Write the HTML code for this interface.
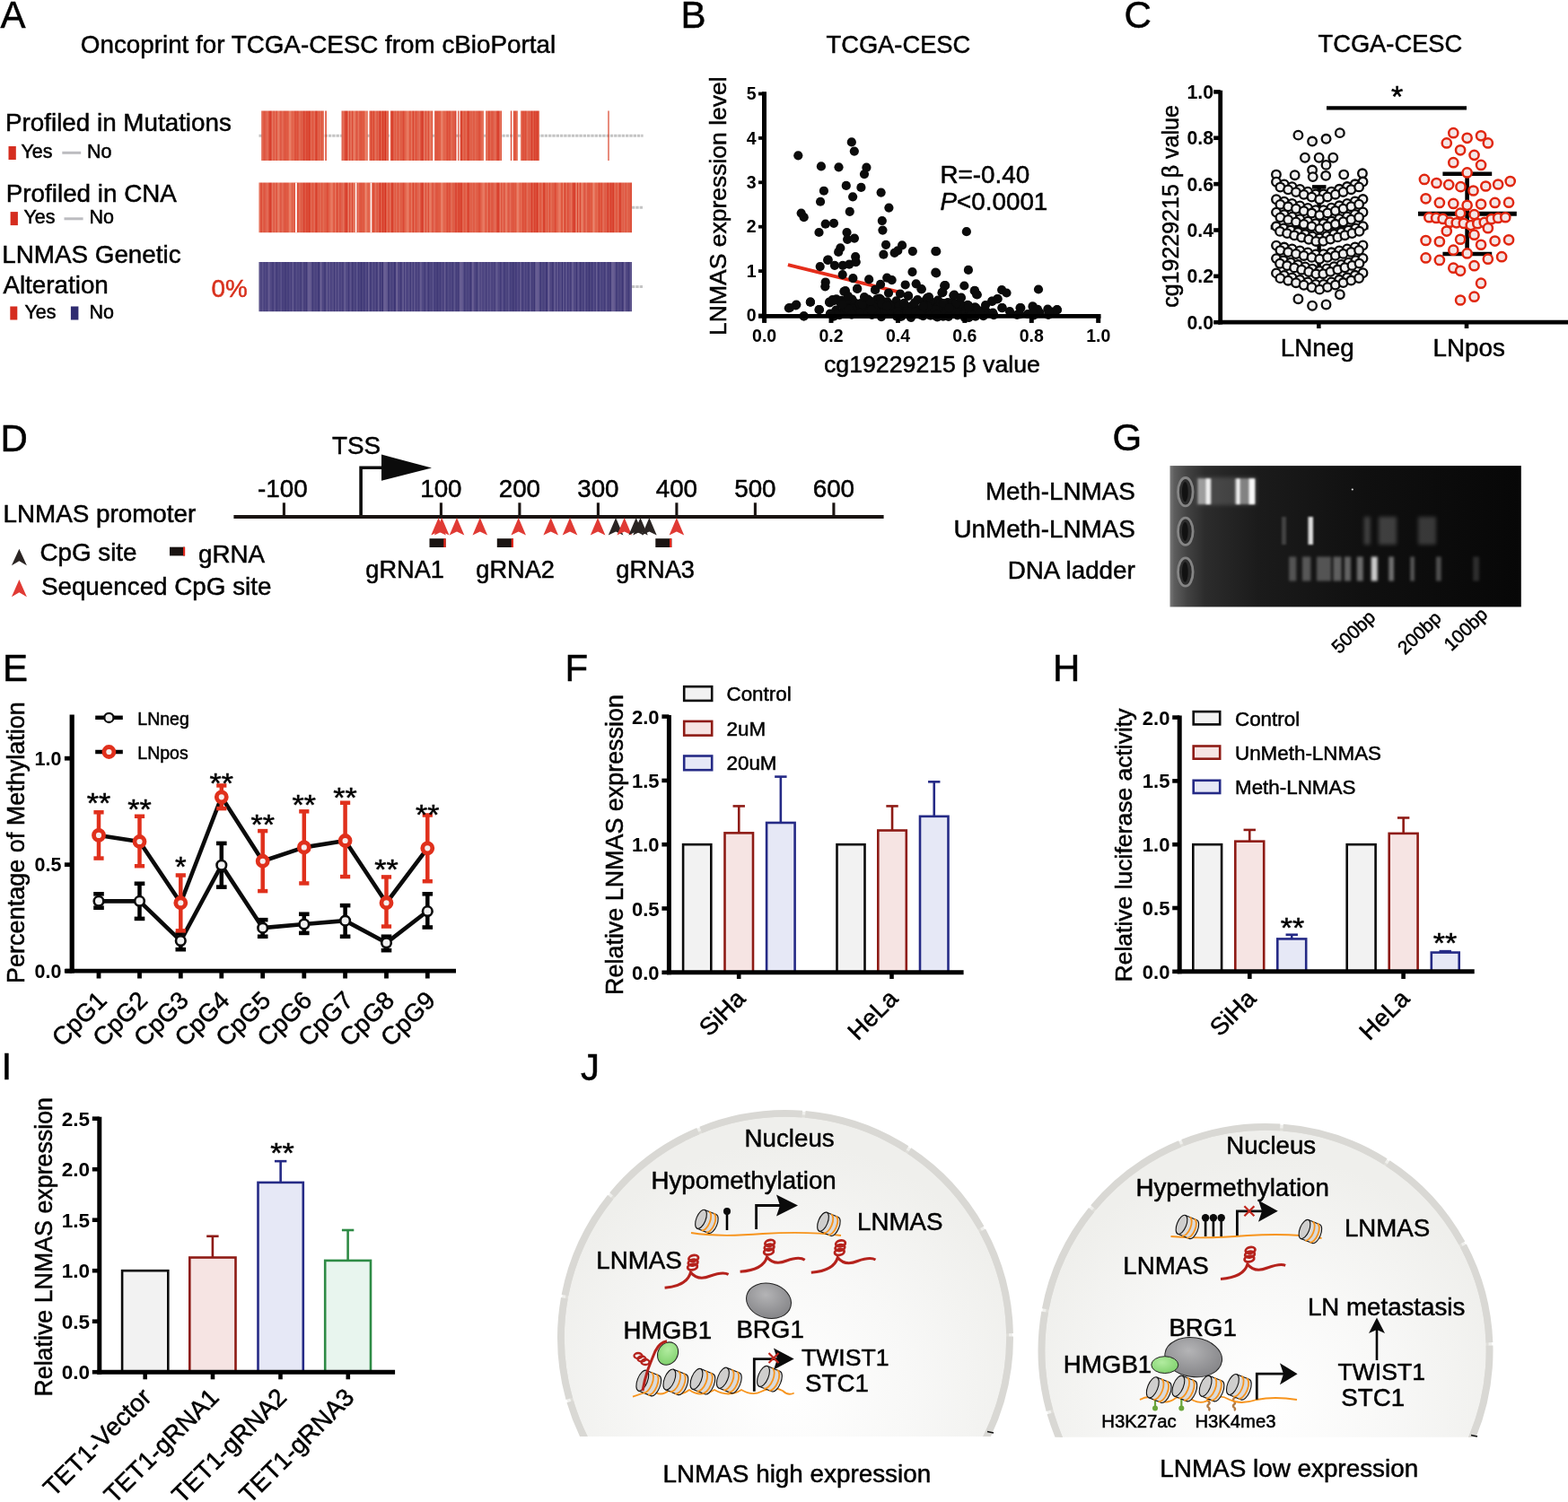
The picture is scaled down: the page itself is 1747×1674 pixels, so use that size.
<!DOCTYPE html>
<html><head><meta charset="utf-8"><title>Figure</title>
<style>html,body{margin:0;padding:0;background:#fff;width:1747px;height:1674px;overflow:hidden}svg{display:block}</style>
</head><body><svg width="1747" height="1674" viewBox="0 0 1747 1674" font-family='"Liberation Sans", Arial, Helvetica, sans-serif'><defs><pattern id="pr" patternUnits="userSpaceOnUse" x="0" y="0" width="84.6" height="10"><rect x="0" y="0" width="84.6" height="10" fill="#eba08c"/><rect x="0" y="0" width="1.41" height="10" fill="#d73826"/><rect x="1.41" y="0" width="1.41" height="10" fill="#df5139"/><rect x="2.82" y="0" width="1.41" height="10" fill="#d93c28"/><rect x="4.23" y="0" width="1.41" height="10" fill="#d93c28"/><rect x="5.64" y="0" width="1.41" height="10" fill="#d5321f"/><rect x="7.05" y="0" width="1.11" height="10" fill="#e0573f"/><rect x="8.46" y="0" width="1.41" height="10" fill="#df5139"/><rect x="9.87" y="0" width="1.11" height="10" fill="#e0573f"/><rect x="11.28" y="0" width="1.11" height="10" fill="#df5139"/><rect x="12.69" y="0" width="1.41" height="10" fill="#d93c28"/><rect x="14.1" y="0" width="1.41" height="10" fill="#d5321f"/><rect x="15.51" y="0" width="1.11" height="10" fill="#df5139"/><rect x="16.92" y="0" width="1.11" height="10" fill="#e0573f"/><rect x="18.33" y="0" width="1.11" height="10" fill="#dc4a33"/><rect x="19.74" y="0" width="1.41" height="10" fill="#dc4a33"/><rect x="21.15" y="0" width="1.41" height="10" fill="#e4664c"/><rect x="22.56" y="0" width="1.11" height="10" fill="#dc4a33"/><rect x="23.97" y="0" width="1.41" height="10" fill="#e0573f"/><rect x="25.38" y="0" width="1.41" height="10" fill="#d93c28"/><rect x="26.79" y="0" width="1.41" height="10" fill="#e0573f"/><rect x="28.2" y="0" width="1.41" height="10" fill="#df5139"/><rect x="29.61" y="0" width="1.41" height="10" fill="#e8765d"/><rect x="31.02" y="0" width="1.41" height="10" fill="#e8765d"/><rect x="32.43" y="0" width="1.41" height="10" fill="#e0573f"/><rect x="33.84" y="0" width="1.11" height="10" fill="#e0573f"/><rect x="35.25" y="0" width="1.41" height="10" fill="#e4664c"/><rect x="36.66" y="0" width="1.41" height="10" fill="#d73826"/><rect x="38.07" y="0" width="1.41" height="10" fill="#e4664c"/><rect x="39.48" y="0" width="1.11" height="10" fill="#d93c28"/><rect x="40.89" y="0" width="1.11" height="10" fill="#df5139"/><rect x="42.3" y="0" width="1.11" height="10" fill="#d73826"/><rect x="43.71" y="0" width="1.41" height="10" fill="#e8765d"/><rect x="45.12" y="0" width="1.41" height="10" fill="#d93c28"/><rect x="46.53" y="0" width="1.41" height="10" fill="#d73826"/><rect x="47.94" y="0" width="1.41" height="10" fill="#d73826"/><rect x="49.35" y="0" width="1.11" height="10" fill="#e8765d"/><rect x="50.76" y="0" width="1.41" height="10" fill="#d93c28"/><rect x="52.17" y="0" width="1.41" height="10" fill="#e8765d"/><rect x="53.58" y="0" width="1.11" height="10" fill="#d93c28"/><rect x="54.99" y="0" width="1.41" height="10" fill="#e4664c"/><rect x="56.4" y="0" width="1.11" height="10" fill="#e8765d"/><rect x="57.81" y="0" width="1.41" height="10" fill="#df5139"/><rect x="59.22" y="0" width="1.11" height="10" fill="#d73826"/><rect x="60.63" y="0" width="1.41" height="10" fill="#e8765d"/><rect x="62.04" y="0" width="1.41" height="10" fill="#d93c28"/><rect x="63.45" y="0" width="1.41" height="10" fill="#e0573f"/><rect x="64.86" y="0" width="1.41" height="10" fill="#dc4a33"/><rect x="66.27" y="0" width="1.41" height="10" fill="#df5139"/><rect x="67.68" y="0" width="1.11" height="10" fill="#e8765d"/><rect x="69.09" y="0" width="1.41" height="10" fill="#e8765d"/><rect x="70.5" y="0" width="1.41" height="10" fill="#e4664c"/><rect x="71.91" y="0" width="1.41" height="10" fill="#df5139"/><rect x="73.32" y="0" width="1.41" height="10" fill="#e4664c"/><rect x="74.73" y="0" width="1.41" height="10" fill="#d73826"/><rect x="76.14" y="0" width="1.41" height="10" fill="#df5139"/><rect x="77.55" y="0" width="1.11" height="10" fill="#dc4a33"/><rect x="78.96" y="0" width="1.11" height="10" fill="#dc4a33"/><rect x="80.37" y="0" width="1.11" height="10" fill="#e0573f"/><rect x="81.78" y="0" width="1.11" height="10" fill="#dc4a33"/><rect x="83.19" y="0" width="1.11" height="10" fill="#d5321f"/></pattern><pattern id="pb" patternUnits="userSpaceOnUse" x="0" y="0" width="84.6" height="10"><rect x="0" y="0" width="84.6" height="10" fill="#8c84ad"/><rect x="0" y="0" width="1.41" height="10" fill="#3c3574"/><rect x="1.41" y="0" width="1.41" height="10" fill="#3c3574"/><rect x="2.82" y="0" width="1.41" height="10" fill="#3a3373"/><rect x="4.23" y="0" width="1.41" height="10" fill="#5e548c"/><rect x="5.64" y="0" width="1.11" height="10" fill="#5e548c"/><rect x="7.05" y="0" width="1.11" height="10" fill="#5e548c"/><rect x="8.46" y="0" width="1.41" height="10" fill="#3e3776"/><rect x="9.87" y="0" width="1.11" height="10" fill="#413a78"/><rect x="11.28" y="0" width="1.41" height="10" fill="#3c3574"/><rect x="12.69" y="0" width="1.11" height="10" fill="#3e3776"/><rect x="14.1" y="0" width="1.41" height="10" fill="#433b7a"/><rect x="15.51" y="0" width="1.41" height="10" fill="#3c3574"/><rect x="16.92" y="0" width="1.41" height="10" fill="#3e3776"/><rect x="18.33" y="0" width="1.11" height="10" fill="#5e548c"/><rect x="19.74" y="0" width="1.41" height="10" fill="#544b86"/><rect x="21.15" y="0" width="1.41" height="10" fill="#3c3574"/><rect x="22.56" y="0" width="1.41" height="10" fill="#3e3776"/><rect x="23.97" y="0" width="1.41" height="10" fill="#413a78"/><rect x="25.38" y="0" width="1.11" height="10" fill="#544b86"/><rect x="26.79" y="0" width="1.41" height="10" fill="#3e3776"/><rect x="28.2" y="0" width="1.41" height="10" fill="#544b86"/><rect x="29.61" y="0" width="1.41" height="10" fill="#433b7a"/><rect x="31.02" y="0" width="1.41" height="10" fill="#4a4280"/><rect x="32.43" y="0" width="1.11" height="10" fill="#3c3574"/><rect x="33.84" y="0" width="1.41" height="10" fill="#3a3373"/><rect x="35.25" y="0" width="1.41" height="10" fill="#544b86"/><rect x="36.66" y="0" width="1.41" height="10" fill="#3e3776"/><rect x="38.07" y="0" width="1.41" height="10" fill="#544b86"/><rect x="39.48" y="0" width="1.41" height="10" fill="#433b7a"/><rect x="40.89" y="0" width="1.41" height="10" fill="#4a4280"/><rect x="42.3" y="0" width="1.41" height="10" fill="#3c3574"/><rect x="43.71" y="0" width="1.41" height="10" fill="#4a4280"/><rect x="45.12" y="0" width="1.41" height="10" fill="#5e548c"/><rect x="46.53" y="0" width="1.11" height="10" fill="#4a4280"/><rect x="47.94" y="0" width="1.41" height="10" fill="#413a78"/><rect x="49.35" y="0" width="1.41" height="10" fill="#3a3373"/><rect x="50.76" y="0" width="1.41" height="10" fill="#544b86"/><rect x="52.17" y="0" width="1.41" height="10" fill="#4a4280"/><rect x="53.58" y="0" width="1.41" height="10" fill="#3c3574"/><rect x="54.99" y="0" width="1.41" height="10" fill="#3c3574"/><rect x="56.4" y="0" width="1.11" height="10" fill="#3c3574"/><rect x="57.81" y="0" width="1.11" height="10" fill="#3e3776"/><rect x="59.22" y="0" width="1.41" height="10" fill="#4a4280"/><rect x="60.63" y="0" width="1.41" height="10" fill="#413a78"/><rect x="62.04" y="0" width="1.41" height="10" fill="#3a3373"/><rect x="63.45" y="0" width="1.41" height="10" fill="#3c3574"/><rect x="64.86" y="0" width="1.41" height="10" fill="#3e3776"/><rect x="66.27" y="0" width="1.41" height="10" fill="#3e3776"/><rect x="67.68" y="0" width="1.41" height="10" fill="#4a4280"/><rect x="69.09" y="0" width="1.41" height="10" fill="#433b7a"/><rect x="70.5" y="0" width="1.11" height="10" fill="#3c3574"/><rect x="71.91" y="0" width="1.41" height="10" fill="#5e548c"/><rect x="73.32" y="0" width="1.41" height="10" fill="#3e3776"/><rect x="74.73" y="0" width="1.41" height="10" fill="#433b7a"/><rect x="76.14" y="0" width="1.11" height="10" fill="#3a3373"/><rect x="77.55" y="0" width="1.41" height="10" fill="#413a78"/><rect x="78.96" y="0" width="1.41" height="10" fill="#433b7a"/><rect x="80.37" y="0" width="1.41" height="10" fill="#413a78"/><rect x="81.78" y="0" width="1.11" height="10" fill="#3c3574"/><rect x="83.19" y="0" width="1.11" height="10" fill="#433b7a"/></pattern><radialGradient id="nuc" cx="0.5" cy="0.62" r="0.55">
<stop offset="0" stop-color="#ffffff"/><stop offset="0.5" stop-color="#f8f8f7"/><stop offset="1" stop-color="#efefec"/></radialGradient>
<linearGradient id="gel" x1="0" y1="0" x2="1" y2="0">
<stop offset="0" stop-color="#7a7a7a"/><stop offset="0.012" stop-color="#5e5e5e"/><stop offset="0.05" stop-color="#424242"/><stop offset="0.1" stop-color="#2c2c2c"/><stop offset="0.25" stop-color="#1b1b1b"/><stop offset="0.55" stop-color="#101010"/><stop offset="1" stop-color="#070707"/></linearGradient>
<filter id="blur05" x="-50%" y="-50%" width="200%" height="200%"><feGaussianBlur stdDeviation="0.6"/></filter>
<filter id="blur1" x="-50%" y="-50%" width="200%" height="200%"><feGaussianBlur stdDeviation="1.2"/></filter>
<filter id="blur15" x="-50%" y="-50%" width="200%" height="200%"><feGaussianBlur stdDeviation="1.6"/></filter>
<filter id="blur2" x="-50%" y="-50%" width="200%" height="200%"><feGaussianBlur stdDeviation="2.2"/></filter>
<radialGradient id="gray3d" cx="0.4" cy="0.35" r="0.7"><stop offset="0" stop-color="#b4b4b6"/><stop offset="1" stop-color="#838386"/></radialGradient>
<radialGradient id="green3d" cx="0.4" cy="0.35" r="0.7"><stop offset="0" stop-color="#b2eca0"/><stop offset="1" stop-color="#7fd06c"/></radialGradient>
</defs><text x="0.5" y="30.8" font-size="42" fill="#000" stroke="#000" stroke-width="0.5">A</text><text x="758.5" y="30.8" font-size="42" fill="#000" stroke="#000" stroke-width="0.5">B</text><text x="1252.5" y="30.8" font-size="42" fill="#000" stroke="#000" stroke-width="0.5">C</text><text x="0.5" y="502.8" font-size="42" fill="#000" stroke="#000" stroke-width="0.5">D</text><text x="1239.5" y="501.5" font-size="42" fill="#000" stroke="#000" stroke-width="0.5">G</text><text x="3" y="759.2" font-size="42" fill="#000" stroke="#000" stroke-width="0.5">E</text><text x="629.5" y="758.8" font-size="42" fill="#000" stroke="#000" stroke-width="0.5">F</text><text x="1173" y="759.3" font-size="42" fill="#000" stroke="#000" stroke-width="0.5">H</text><text x="1.5" y="1203.2" font-size="42" fill="#000" stroke="#000" stroke-width="0.5">I</text><text x="647" y="1203.5" font-size="42" fill="#000" stroke="#000" stroke-width="0.5">J</text><text x="89.8" y="58.5" font-size="27.8" fill="#000" stroke="#000" stroke-width="0.5">Oncoprint for TCGA-CESC from cBioPortal</text><text x="6" y="145.7" font-size="27.8" fill="#000" stroke="#000" stroke-width="0.5">Profiled in Mutations</text><text x="6.8" y="225.3" font-size="27.8" fill="#000" stroke="#000" stroke-width="0.5">Profiled in CNA</text><text x="2.3" y="293" font-size="27.8" fill="#000" stroke="#000" stroke-width="0.5">LNMAS Genetic</text><text x="3.4" y="326.7" font-size="27.8" fill="#000" stroke="#000" stroke-width="0.5">Alteration</text><text x="235.5" y="331.2" font-size="27.8" fill="#d8301c" stroke="#d8301c" stroke-width="0.5">0%</text><rect x="9.5" y="163" width="8.3" height="15" fill="#d52d1f"/><text x="23.5" y="176" font-size="21.5" fill="#000" stroke="#000" stroke-width="0.5">Yes</text><rect x="69.3" y="168.8" width="20.9" height="3" fill="#bcbcc0"/><text x="97" y="176" font-size="21.5" fill="#000" stroke="#000" stroke-width="0.5">No</text><rect x="11.6" y="236.1" width="8.3" height="15" fill="#d52d1f"/><text x="26.4" y="249.4" font-size="21.5" fill="#000" stroke="#000" stroke-width="0.5">Yes</text><rect x="71.5" y="242.3" width="21.1" height="3" fill="#bcbcc0"/><text x="99.4" y="249.4" font-size="21.5" fill="#000" stroke="#000" stroke-width="0.5">No</text><rect x="11.3" y="341.5" width="8" height="15" fill="#d52d1f"/><text x="27.4" y="354.5" font-size="21.5" fill="#000" stroke="#000" stroke-width="0.5">Yes</text><rect x="78.9" y="341.5" width="8.5" height="15" fill="#2f2c70"/><text x="99.4" y="354.5" font-size="21.5" fill="#000" stroke="#000" stroke-width="0.5">No</text><line x1="288.5" y1="151.2" x2="716.6" y2="151.2" stroke="#c4c4c4" stroke-width="3" stroke-dasharray="3.4 0.9"/><line x1="704" y1="231.2" x2="716.6" y2="231.2" stroke="#c4c4c4" stroke-width="3" stroke-dasharray="3.4 0.9"/><line x1="704" y1="319.6" x2="716.6" y2="319.6" stroke="#c4c4c4" stroke-width="3" stroke-dasharray="3.4 0.9"/><rect x="291.3" y="123.5" width="69.6" height="55.5" fill="url(#pr)"/><rect x="362.3" y="123.5" width="1.5" height="55.5" fill="#da4129"/><rect x="380.5" y="123.5" width="29.3" height="55.5" fill="url(#pr)"/><rect x="411.4" y="123.5" width="21.6" height="55.5" fill="url(#pr)"/><rect x="434.8" y="123.5" width="47.4" height="55.5" fill="url(#pr)"/><rect x="484" y="123.5" width="24.5" height="55.5" fill="url(#pr)"/><rect x="510.2" y="123.5" width="1.2" height="55.5" fill="#da4129"/><rect x="512.6" y="123.5" width="26.5" height="55.5" fill="url(#pr)"/><rect x="541.2" y="123.5" width="17.8" height="55.5" fill="url(#pr)"/><rect x="568.9" y="123.5" width="1.2" height="55.5" fill="#da4129"/><rect x="571.9" y="123.5" width="5.1" height="55.5" fill="url(#pr)"/><rect x="580.1" y="123.5" width="20.9" height="55.5" fill="url(#pr)"/><rect x="677.4" y="123.5" width="1.2" height="55.5" fill="#da4129"/><rect x="288.5" y="203.5" width="415.5" height="55.7" fill="url(#pr)"/><rect x="329" y="203.5" width="1.8" height="55.7" fill="#ffffff"/><rect x="396" y="203.5" width="1.4" height="55.7" fill="#ffffff"/><rect x="412.7" y="203.5" width="1.5" height="55.7" fill="#ffffff"/><rect x="288.5" y="292" width="415.5" height="55.2" fill="url(#pb)"/><text x="920.5" y="58.7" font-size="27.3" fill="#000" stroke="#000" stroke-width="0.5">TCGA-CESC</text><text x="809" y="374" font-size="26.5" fill="#000" stroke="#000" stroke-width="0.5" transform="rotate(-90 809 374)">LNMAS expression level</text><text x="918" y="415.3" font-size="26.7" fill="#000" stroke="#000" stroke-width="0.5">cg19229215 β value</text><text x="1047.5" y="203.8" font-size="27.8" fill="#000" stroke="#000" stroke-width="0.5">R=-0.40</text><text x="1047.5" y="234.3" font-size="27.8" stroke="#000" stroke-width="0.5"><tspan font-style="italic">P</tspan>&lt;0.0001</text><line x1="877.9" y1="295.2" x2="1003" y2="325.8" stroke="#e52d1b" stroke-width="3.8" stroke-linecap="butt"/><path d="M936 355 L936 340 L1000 339 L1060 342 L1094 346 L1097 355 Z" fill="#0b0b0b"/><g fill="#0b0b0b"><circle cx="948.81" cy="158.39" r="5.1"/><circle cx="951.82" cy="168.61" r="5.1"/><circle cx="889.31" cy="173.3" r="5.1"/><circle cx="914.91" cy="185.44" r="5.1"/><circle cx="934.51" cy="186.28" r="5.1"/><circle cx="965.4" cy="186.64" r="5.1"/><circle cx="962.99" cy="194.09" r="5.1"/><circle cx="942.8" cy="206.96" r="5.1"/><circle cx="959.39" cy="208.88" r="5.1"/><circle cx="917.92" cy="212.73" r="5.1"/><circle cx="981.63" cy="214.53" r="5.1"/><circle cx="950.13" cy="219.34" r="5.1"/><circle cx="914.07" cy="224.75" r="5.1"/><circle cx="990.4" cy="231.6" r="5.1"/><circle cx="946.77" cy="235.8" r="5.1"/><circle cx="892.67" cy="237.61" r="5.1"/><circle cx="895.68" cy="242.18" r="5.1"/><circle cx="982.83" cy="246.02" r="5.1"/><circle cx="919.72" cy="249.63" r="5.1"/><circle cx="928.98" cy="248.79" r="5.1"/><circle cx="912.51" cy="259" r="5.1"/><circle cx="943.52" cy="259" r="5.1"/><circle cx="983.43" cy="256.6" r="5.1"/><circle cx="944.12" cy="266.82" r="5.1"/><circle cx="951.94" cy="265.62" r="5.1"/><circle cx="987.04" cy="272.83" r="5.1"/><circle cx="1005.07" cy="273.43" r="5.1"/><circle cx="996.65" cy="281.84" r="5.1"/><circle cx="1000.26" cy="279.44" r="5.1"/><circle cx="1016.85" cy="280.04" r="5.1"/><circle cx="1042.33" cy="280.04" r="5.1"/><circle cx="936.31" cy="276.43" r="5.1"/><circle cx="934.14" cy="280.88" r="5.1"/><circle cx="984.39" cy="283.65" r="5.1"/><circle cx="953.14" cy="286.05" r="5.1"/><circle cx="953.62" cy="292.06" r="5.1"/><circle cx="922.73" cy="289.66" r="5.1"/><circle cx="913.71" cy="297.05" r="5.1"/><circle cx="922.12" cy="289.83" r="5.1"/><circle cx="929.94" cy="295.84" r="5.1"/><circle cx="938.95" cy="295.84" r="5.1"/><circle cx="946.17" cy="294.64" r="5.1"/><circle cx="953.38" cy="291.64" r="5.1"/><circle cx="938.71" cy="306.06" r="5.1"/><circle cx="950.37" cy="310.03" r="5.1"/><circle cx="968.16" cy="311.47" r="5.1"/><circle cx="919.72" cy="314.48" r="5.1"/><circle cx="919.36" cy="319.28" r="5.1"/><circle cx="988.24" cy="309.67" r="5.1"/><circle cx="993.65" cy="312.07" r="5.1"/><circle cx="981.03" cy="316.88" r="5.1"/><circle cx="975.02" cy="322.89" r="5.1"/><circle cx="955.18" cy="321.69" r="5.1"/><circle cx="941.96" cy="324.09" r="5.1"/><circle cx="1016.49" cy="303.06" r="5.1"/><circle cx="1042.33" cy="303.66" r="5.1"/><circle cx="1008.67" cy="317.48" r="5.1"/><circle cx="1020.69" cy="316.28" r="5.1"/><circle cx="1026.7" cy="322.29" r="5.1"/><circle cx="1053.15" cy="318.08" r="5.1"/><circle cx="1049.54" cy="326.5" r="5.1"/><circle cx="878.85" cy="343.33" r="5.1"/><circle cx="886.66" cy="340.32" r="5.1"/><circle cx="902.89" cy="336.71" r="5.1"/><circle cx="912.51" cy="345.13" r="5.1"/><circle cx="895.68" cy="352.34" r="5.1"/><circle cx="924.53" cy="337.32" r="5.1"/><circle cx="1076.86" cy="258.16" r="5.1"/><circle cx="1043.21" cy="280.14" r="5.1"/><circle cx="1043.21" cy="304.41" r="5.1"/><circle cx="1078.92" cy="300.97" r="5.1"/><circle cx="1052.82" cy="318.49" r="5.1"/><circle cx="1074.34" cy="318.49" r="5.1"/><circle cx="1085.79" cy="324.21" r="5.1"/><circle cx="1088.08" cy="328.22" r="5.1"/><circle cx="1049.73" cy="325.93" r="5.1"/><circle cx="1062.32" cy="329.36" r="5.1"/><circle cx="1070.91" cy="331.65" r="5.1"/><circle cx="1116.13" cy="323.07" r="5.1"/><circle cx="1121.51" cy="326.5" r="5.1"/><circle cx="1157" cy="322.5" r="5.1"/><circle cx="1110.98" cy="333.37" r="5.1"/><circle cx="1105.25" cy="335.66" r="5.1"/><circle cx="1116.7" cy="343.1" r="5.1"/><circle cx="1137.31" cy="343.1" r="5.1"/><circle cx="1150.48" cy="341.39" r="5.1"/><circle cx="1157.92" cy="348.83" r="5.1"/><circle cx="1177.95" cy="345.39" r="5.1"/><circle cx="1003" cy="327.5" r="5.1"/><circle cx="1012" cy="329.5" r="5.1"/><circle cx="1033" cy="332" r="5.1"/><circle cx="1045" cy="334.5" r="5.1"/><circle cx="1056" cy="337" r="5.1"/><circle cx="1068" cy="339.5" r="5.1"/><circle cx="968.93" cy="343.97" r="5.1"/><circle cx="991.63" cy="345.29" r="5.1"/><circle cx="1035.62" cy="336.1" r="5.1"/><circle cx="930.26" cy="350.42" r="5.1"/><circle cx="972.61" cy="337.16" r="5.1"/><circle cx="1099.25" cy="347.49" r="5.1"/><circle cx="1071.87" cy="345.84" r="5.1"/><circle cx="1037.92" cy="337.89" r="5.1"/><circle cx="1037.2" cy="351.49" r="5.1"/><circle cx="1017.99" cy="348.68" r="5.1"/><circle cx="1043.48" cy="336.66" r="5.1"/><circle cx="1058.42" cy="346.92" r="5.1"/><circle cx="979.82" cy="332.68" r="5.1"/><circle cx="1076.87" cy="346.1" r="5.1"/><circle cx="1051.64" cy="351.83" r="5.1"/><circle cx="1050.83" cy="352.59" r="5.1"/><circle cx="995.93" cy="349.62" r="5.1"/><circle cx="1004.47" cy="352.61" r="5.1"/><circle cx="1079.17" cy="340.73" r="5.1"/><circle cx="951.39" cy="336.77" r="5.1"/><circle cx="1094.06" cy="346.72" r="5.1"/><circle cx="1035.78" cy="340.62" r="5.1"/><circle cx="1015.25" cy="341.24" r="5.1"/><circle cx="988.36" cy="344.87" r="5.1"/><circle cx="1028.49" cy="352.11" r="5.1"/><circle cx="1045.3" cy="352.69" r="5.1"/><circle cx="1075.3" cy="353.86" r="5.1"/><circle cx="1043.46" cy="338.5" r="5.1"/><circle cx="1076.03" cy="353.47" r="5.1"/><circle cx="1083.61" cy="347.9" r="5.1"/><circle cx="1050.78" cy="339.85" r="5.1"/><circle cx="1071.04" cy="347.31" r="5.1"/><circle cx="977.01" cy="333.4" r="5.1"/><circle cx="1074.88" cy="353.84" r="5.1"/><circle cx="943.23" cy="349.61" r="5.1"/><circle cx="998.6" cy="335.32" r="5.1"/><circle cx="978.55" cy="348.91" r="5.1"/><circle cx="1078.12" cy="339.83" r="5.1"/><circle cx="1033.7" cy="335.56" r="5.1"/><circle cx="1051.57" cy="342.04" r="5.1"/><circle cx="1079.52" cy="353.72" r="5.1"/><circle cx="1014.93" cy="353.97" r="5.1"/><circle cx="981.26" cy="333.69" r="5.1"/><circle cx="1031.16" cy="335.1" r="5.1"/><circle cx="961.95" cy="340.97" r="5.1"/><circle cx="1033" cy="337.66" r="5.1"/><circle cx="935.3" cy="351.09" r="5.1"/><circle cx="981.98" cy="353.09" r="5.1"/><circle cx="1082.23" cy="345.08" r="5.1"/><circle cx="1007.19" cy="343.72" r="5.1"/><circle cx="1038.75" cy="346.36" r="5.1"/><circle cx="1024.19" cy="346.38" r="5.1"/><circle cx="1089.79" cy="347.38" r="5.1"/><circle cx="1002.16" cy="347.9" r="5.1"/><circle cx="968.87" cy="338.62" r="5.1"/><circle cx="1096.18" cy="347.94" r="5.1"/><circle cx="1022.33" cy="334.02" r="5.1"/><circle cx="999.42" cy="344.76" r="5.1"/><circle cx="931.45" cy="345.55" r="5.1"/><circle cx="1036.74" cy="336.08" r="5.1"/><circle cx="1035.9" cy="343.79" r="5.1"/><circle cx="1044.84" cy="342.08" r="5.1"/><circle cx="1049.6" cy="349.28" r="5.1"/><circle cx="931.82" cy="333.33" r="5.1"/><circle cx="1044.28" cy="353.32" r="5.1"/><circle cx="971.19" cy="342.04" r="5.1"/><circle cx="1029.94" cy="340.67" r="5.1"/><circle cx="990.6" cy="338.88" r="5.1"/><circle cx="991.49" cy="345.1" r="5.1"/><circle cx="979.67" cy="340.3" r="5.1"/><circle cx="1060.83" cy="337.55" r="5.1"/><circle cx="1025.91" cy="348.72" r="5.1"/><circle cx="981.32" cy="336.9" r="5.1"/><circle cx="1066.25" cy="341.63" r="5.1"/><circle cx="960.23" cy="341.58" r="5.1"/><circle cx="1048.07" cy="337.69" r="5.1"/><circle cx="983.38" cy="339.34" r="5.1"/><circle cx="1071.37" cy="345.22" r="5.1"/><circle cx="1075.15" cy="341.39" r="5.1"/><circle cx="985.91" cy="346.31" r="5.1"/><circle cx="1080.2" cy="346" r="5.1"/><circle cx="966.7" cy="334.66" r="5.1"/><circle cx="1019.1" cy="337.43" r="5.1"/><circle cx="1066.77" cy="351.39" r="5.1"/><circle cx="959.58" cy="338.13" r="5.1"/><circle cx="1066.84" cy="348.21" r="5.1"/><circle cx="1066.68" cy="343.39" r="5.1"/><circle cx="950.31" cy="338.42" r="5.1"/><circle cx="1064.54" cy="342.01" r="5.1"/><circle cx="987.57" cy="341.17" r="5.1"/><circle cx="1000.2" cy="341.02" r="5.1"/><circle cx="1086.35" cy="342.32" r="5.1"/><circle cx="928.8" cy="352.75" r="5.1"/><circle cx="1079.36" cy="353.81" r="5.1"/><circle cx="1002.71" cy="352.91" r="5.1"/><circle cx="1087.51" cy="343.34" r="5.1"/><circle cx="1056.23" cy="351.14" r="5.1"/><circle cx="1042.03" cy="345.04" r="5.1"/><circle cx="977.72" cy="339.5" r="5.1"/><circle cx="967.12" cy="333.5" r="5.1"/><circle cx="1029.25" cy="339.98" r="5.1"/><circle cx="1067.35" cy="338.61" r="5.1"/><circle cx="1083.42" cy="349.65" r="5.1"/><circle cx="1086.9" cy="352.58" r="5.1"/><circle cx="1082.74" cy="347.96" r="5.1"/><circle cx="930.26" cy="348.4" r="5.1"/><circle cx="957.55" cy="338.6" r="5.1"/><circle cx="1042.02" cy="345.15" r="5.1"/><circle cx="999.17" cy="352.66" r="5.1"/><circle cx="1033.29" cy="341.26" r="5.1"/><circle cx="971.43" cy="350.96" r="5.1"/><circle cx="1010.08" cy="349.39" r="5.1"/><circle cx="988.52" cy="336.34" r="5.1"/><circle cx="1019.96" cy="350.26" r="5.1"/><circle cx="957.46" cy="349.42" r="5.1"/><circle cx="1086.54" cy="351.32" r="5.1"/><circle cx="1069.64" cy="338.28" r="5.1"/><circle cx="1036.12" cy="351.37" r="5.1"/><circle cx="936.59" cy="337.97" r="5.1"/><circle cx="974.2" cy="343.6" r="5.1"/><circle cx="1000.75" cy="342.44" r="5.1"/><circle cx="1061.56" cy="337.22" r="5.1"/><circle cx="937.43" cy="334.79" r="5.1"/><circle cx="949.44" cy="333.51" r="5.1"/><circle cx="1095.65" cy="352.15" r="5.1"/><circle cx="942.81" cy="343.05" r="5.1"/><circle cx="982.33" cy="338.92" r="5.1"/><circle cx="988.42" cy="346.23" r="5.1"/><circle cx="1028.9" cy="341.42" r="5.1"/><circle cx="960.87" cy="339.23" r="5.1"/><circle cx="949.29" cy="344.22" r="5.1"/><circle cx="1051.16" cy="342.9" r="5.1"/><circle cx="941.74" cy="335.93" r="5.1"/><circle cx="992.2" cy="345.3" r="5.1"/><circle cx="1062.61" cy="343.66" r="5.1"/><circle cx="1065.8" cy="347.85" r="5.1"/><circle cx="1002.23" cy="340.31" r="5.1"/><circle cx="1013.34" cy="347.78" r="5.1"/><circle cx="1000.33" cy="347.28" r="5.1"/><circle cx="1007.26" cy="337.83" r="5.1"/><circle cx="1020.16" cy="347.79" r="5.1"/><circle cx="940.31" cy="341.35" r="5.1"/><circle cx="1001.25" cy="351.36" r="5.1"/><circle cx="1089.08" cy="345.55" r="5.1"/><circle cx="1082.43" cy="351.01" r="5.1"/><circle cx="973.09" cy="342.21" r="5.1"/><circle cx="949.18" cy="349.89" r="5.1"/><circle cx="1041.91" cy="351.9" r="5.1"/><circle cx="1064.3" cy="348.52" r="5.1"/><circle cx="1054.2" cy="346.3" r="5.1"/><circle cx="945.74" cy="344.93" r="5.1"/><circle cx="928.84" cy="335.16" r="5.1"/><circle cx="1061.18" cy="337.89" r="5.1"/><circle cx="943.79" cy="334.18" r="5.1"/><circle cx="1079.44" cy="341.96" r="5.1"/><circle cx="932.04" cy="350.51" r="5.1"/><circle cx="948.86" cy="350.57" r="5.1"/><circle cx="1043.85" cy="350.97" r="5.1"/><circle cx="1091.81" cy="348.45" r="5.1"/><circle cx="1065.38" cy="338.24" r="5.1"/><circle cx="1060" cy="345.59" r="5.1"/><circle cx="1051.01" cy="337.99" r="5.1"/><circle cx="1056.82" cy="352.86" r="5.1"/><circle cx="938.52" cy="339.13" r="5.1"/><circle cx="1025" cy="350.56" r="5.1"/><circle cx="969.65" cy="335.95" r="5.1"/><circle cx="970.99" cy="345.55" r="5.1"/><circle cx="1057.61" cy="343.46" r="5.1"/><circle cx="991.21" cy="340.73" r="5.1"/><circle cx="988.25" cy="341.2" r="5.1"/><circle cx="940.4" cy="324.8" r="5.1"/><circle cx="955.1" cy="322" r="5.1"/><circle cx="975.3" cy="323" r="5.1"/><circle cx="990" cy="326.6" r="5.1"/><circle cx="1026.5" cy="322" r="5.1"/><circle cx="1052.2" cy="318.4" r="5.1"/><circle cx="1050.4" cy="325.7" r="5.1"/><circle cx="1063.2" cy="328.5" r="5.1"/><circle cx="1070.5" cy="332" r="5.1"/><circle cx="1086" cy="323.9" r="5.1"/><circle cx="1088.8" cy="328.5" r="5.1"/><circle cx="1105.3" cy="335.8" r="5.1"/><circle cx="1111.7" cy="333" r="5.1"/><circle cx="1116.3" cy="343.1" r="5.1"/><circle cx="1136.5" cy="343.1" r="5.1"/><circle cx="1151.1" cy="342.2" r="5.1"/><circle cx="1158.4" cy="348.6" r="5.1"/><circle cx="1177.7" cy="345" r="5.1"/><circle cx="887.3" cy="339.5" r="5.1"/><circle cx="880" cy="343" r="5.1"/><circle cx="902.9" cy="336.7" r="5.1"/><circle cx="913" cy="345" r="5.1"/><circle cx="895.6" cy="352.3" r="5.1"/><circle cx="924" cy="336.7" r="5.1"/><circle cx="927.6" cy="334" r="5.1"/><circle cx="924.9" cy="349.5" r="5.1"/><circle cx="945" cy="330" r="5.1"/><circle cx="963" cy="331" r="5.1"/><circle cx="1012" cy="330" r="5.1"/><circle cx="1035" cy="331" r="5.1"/><circle cx="1098" cy="340" r="5.1"/><circle cx="1125" cy="347" r="5.1"/><circle cx="1145" cy="350" r="5.1"/><circle cx="1168" cy="351" r="5.1"/><circle cx="1106.24" cy="348.5" r="5.1"/><circle cx="1172.98" cy="347.54" r="5.1"/><circle cx="1156.06" cy="344.77" r="5.1"/><circle cx="1151.81" cy="351.32" r="5.1"/><circle cx="1150.54" cy="348.69" r="5.1"/><circle cx="1136.28" cy="350.07" r="5.1"/><circle cx="1167.31" cy="344.64" r="5.1"/><circle cx="1107.19" cy="351.23" r="5.1"/><circle cx="1168.75" cy="348.69" r="5.1"/><circle cx="1133.23" cy="350.91" r="5.1"/></g><line x1="851.5" y1="102.2" x2="851.5" y2="354.7" stroke="#000" stroke-width="5" stroke-linecap="butt"/><line x1="845" y1="352.4" x2="1226.5" y2="352.4" stroke="#000" stroke-width="4.6" stroke-linecap="butt"/><line x1="845" y1="351.5" x2="851.5" y2="351.5" stroke="#000" stroke-width="3.8" stroke-linecap="butt"/><text x="842.6" y="358.1" font-size="19.5" font-weight="bold" text-anchor="end" fill="#000" stroke="#000" stroke-width="0">0</text><line x1="845" y1="302.1" x2="851.5" y2="302.1" stroke="#000" stroke-width="3.8" stroke-linecap="butt"/><text x="842.6" y="308.7" font-size="19.5" font-weight="bold" text-anchor="end" fill="#000" stroke="#000" stroke-width="0">1</text><line x1="845" y1="252.7" x2="851.5" y2="252.7" stroke="#000" stroke-width="3.8" stroke-linecap="butt"/><text x="842.6" y="259.3" font-size="19.5" font-weight="bold" text-anchor="end" fill="#000" stroke="#000" stroke-width="0">2</text><line x1="845" y1="203.3" x2="851.5" y2="203.3" stroke="#000" stroke-width="3.8" stroke-linecap="butt"/><text x="842.6" y="209.9" font-size="19.5" font-weight="bold" text-anchor="end" fill="#000" stroke="#000" stroke-width="0">3</text><line x1="845" y1="153.9" x2="851.5" y2="153.9" stroke="#000" stroke-width="3.8" stroke-linecap="butt"/><text x="842.6" y="160.5" font-size="19.5" font-weight="bold" text-anchor="end" fill="#000" stroke="#000" stroke-width="0">4</text><line x1="845" y1="104.5" x2="851.5" y2="104.5" stroke="#000" stroke-width="3.8" stroke-linecap="butt"/><text x="842.6" y="111.1" font-size="19.5" font-weight="bold" text-anchor="end" fill="#000" stroke="#000" stroke-width="0">5</text><line x1="851.6" y1="352.4" x2="851.6" y2="359.9" stroke="#000" stroke-width="5" stroke-linecap="butt"/><text x="851.6" y="380.6" font-size="19.5" font-weight="bold" text-anchor="middle" fill="#000" stroke="#000" stroke-width="0">0.0</text><line x1="926.02" y1="352.4" x2="926.02" y2="359.9" stroke="#000" stroke-width="5" stroke-linecap="butt"/><text x="926.02" y="380.6" font-size="19.5" font-weight="bold" text-anchor="middle" fill="#000" stroke="#000" stroke-width="0">0.2</text><line x1="1000.44" y1="352.4" x2="1000.44" y2="359.9" stroke="#000" stroke-width="5" stroke-linecap="butt"/><text x="1000.44" y="380.6" font-size="19.5" font-weight="bold" text-anchor="middle" fill="#000" stroke="#000" stroke-width="0">0.4</text><line x1="1074.86" y1="352.4" x2="1074.86" y2="359.9" stroke="#000" stroke-width="5" stroke-linecap="butt"/><text x="1074.86" y="380.6" font-size="19.5" font-weight="bold" text-anchor="middle" fill="#000" stroke="#000" stroke-width="0">0.6</text><line x1="1149.28" y1="352.4" x2="1149.28" y2="359.9" stroke="#000" stroke-width="5" stroke-linecap="butt"/><text x="1149.28" y="380.6" font-size="19.5" font-weight="bold" text-anchor="middle" fill="#000" stroke="#000" stroke-width="0">0.8</text><line x1="1223.7" y1="352.4" x2="1223.7" y2="359.9" stroke="#000" stroke-width="5" stroke-linecap="butt"/><text x="1223.7" y="380.6" font-size="19.5" font-weight="bold" text-anchor="middle" fill="#000" stroke="#000" stroke-width="0">1.0</text><text x="1468.5" y="57.9" font-size="27.3" fill="#000" stroke="#000" stroke-width="0.5">TCGA-CESC</text><text x="1313" y="342.8" font-size="25" fill="#000" stroke="#000" stroke-width="0.5" transform="rotate(-90 1313 342.8)">cg19229215 β value</text><text x="1426.7" y="397.3" font-size="27.8" fill="#000" stroke="#000" stroke-width="0.5">LNneg</text><text x="1596.5" y="397.3" font-size="27.8" fill="#000" stroke="#000" stroke-width="0.5">LNpos</text><line x1="1469.6" y1="208.4" x2="1469.6" y2="301.9" stroke="#000" stroke-width="4.5" stroke-linecap="butt"/><line x1="1462" y1="208.4" x2="1477.5" y2="208.4" stroke="#000" stroke-width="4.5" stroke-linecap="butt"/><line x1="1462" y1="301.9" x2="1477.5" y2="301.9" stroke="#000" stroke-width="4.5" stroke-linecap="butt"/><line x1="1415.7" y1="253.3" x2="1524.5" y2="253.3" stroke="#000" stroke-width="5" stroke-linecap="butt"/><g fill="#f1f1f1" stroke="#0b0b0b" stroke-width="2.3"><circle cx="1446.41" cy="150.66" r="4.8"/><circle cx="1462.09" cy="157.57" r="4.8"/><circle cx="1477.52" cy="154.81" r="4.8"/><circle cx="1492.83" cy="148.16" r="4.8"/><circle cx="1453.93" cy="175.76" r="4.8"/><circle cx="1469.62" cy="175.76" r="4.8"/><circle cx="1485.3" cy="175.76" r="4.8"/><circle cx="1477.52" cy="183.91" r="4.8"/><circle cx="1462.09" cy="189.56" r="4.8"/><circle cx="1462.72" cy="197.09" r="4.8"/><circle cx="1477.15" cy="195.83" r="4.8"/><circle cx="1421.94" cy="194.58" r="4.8"/><circle cx="1442.64" cy="195.21" r="4.8"/><circle cx="1497.22" cy="194.58" r="4.8"/><circle cx="1517.92" cy="193.32" r="4.8"/><circle cx="1446.41" cy="333.22" r="4.8"/><circle cx="1462.09" cy="340.75" r="4.8"/><circle cx="1477.52" cy="339.5" r="4.8"/><circle cx="1492.83" cy="328.21" r="4.8"/><circle cx="1422" cy="202.7" r="4.8"/><circle cx="1430.77" cy="205.46" r="4.8"/><circle cx="1439.55" cy="208.22" r="4.8"/><circle cx="1448.32" cy="210.98" r="4.8"/><circle cx="1457.09" cy="213.74" r="4.8"/><circle cx="1465.86" cy="216.5" r="4.8"/><circle cx="1474.64" cy="216.34" r="4.8"/><circle cx="1483.41" cy="213.58" r="4.8"/><circle cx="1492.18" cy="210.82" r="4.8"/><circle cx="1500.95" cy="208.06" r="4.8"/><circle cx="1509.73" cy="205.3" r="4.8"/><circle cx="1518.5" cy="202.54" r="4.8"/><circle cx="1426.39" cy="208.58" r="4.8"/><circle cx="1435.16" cy="211.34" r="4.8"/><circle cx="1443.93" cy="214.1" r="4.8"/><circle cx="1452.7" cy="216.86" r="4.8"/><circle cx="1461.48" cy="219.62" r="4.8"/><circle cx="1470.25" cy="222.22" r="4.8"/><circle cx="1479.02" cy="219.46" r="4.8"/><circle cx="1487.8" cy="216.7" r="4.8"/><circle cx="1496.57" cy="213.94" r="4.8"/><circle cx="1505.34" cy="211.18" r="4.8"/><circle cx="1514.11" cy="208.42" r="4.8"/><circle cx="1422" cy="222.2" r="4.8"/><circle cx="1430.77" cy="224.61" r="4.8"/><circle cx="1439.55" cy="227.02" r="4.8"/><circle cx="1448.32" cy="229.44" r="4.8"/><circle cx="1457.09" cy="231.85" r="4.8"/><circle cx="1465.86" cy="234.26" r="4.8"/><circle cx="1474.64" cy="234.12" r="4.8"/><circle cx="1483.41" cy="231.71" r="4.8"/><circle cx="1492.18" cy="229.3" r="4.8"/><circle cx="1500.95" cy="226.89" r="4.8"/><circle cx="1509.73" cy="224.47" r="4.8"/><circle cx="1518.5" cy="222.06" r="4.8"/><circle cx="1426.39" cy="227.91" r="4.8"/><circle cx="1435.16" cy="230.32" r="4.8"/><circle cx="1443.93" cy="232.73" r="4.8"/><circle cx="1452.7" cy="235.14" r="4.8"/><circle cx="1461.48" cy="237.56" r="4.8"/><circle cx="1470.25" cy="239.83" r="4.8"/><circle cx="1479.02" cy="237.42" r="4.8"/><circle cx="1487.8" cy="235.01" r="4.8"/><circle cx="1496.57" cy="232.59" r="4.8"/><circle cx="1505.34" cy="230.18" r="4.8"/><circle cx="1514.11" cy="227.77" r="4.8"/><circle cx="1422" cy="236.6" r="4.8"/><circle cx="1430.77" cy="239.12" r="4.8"/><circle cx="1439.55" cy="241.64" r="4.8"/><circle cx="1448.32" cy="244.17" r="4.8"/><circle cx="1457.09" cy="246.69" r="4.8"/><circle cx="1465.86" cy="249.21" r="4.8"/><circle cx="1474.64" cy="249.07" r="4.8"/><circle cx="1483.41" cy="246.54" r="4.8"/><circle cx="1492.18" cy="244.02" r="4.8"/><circle cx="1500.95" cy="241.5" r="4.8"/><circle cx="1509.73" cy="238.98" r="4.8"/><circle cx="1518.5" cy="236.46" r="4.8"/><circle cx="1426.39" cy="242.36" r="4.8"/><circle cx="1435.16" cy="244.88" r="4.8"/><circle cx="1443.93" cy="247.41" r="4.8"/><circle cx="1452.7" cy="249.93" r="4.8"/><circle cx="1461.48" cy="252.45" r="4.8"/><circle cx="1470.25" cy="254.83" r="4.8"/><circle cx="1479.02" cy="252.31" r="4.8"/><circle cx="1487.8" cy="249.78" r="4.8"/><circle cx="1496.57" cy="247.26" r="4.8"/><circle cx="1505.34" cy="244.74" r="4.8"/><circle cx="1514.11" cy="242.22" r="4.8"/><circle cx="1422" cy="252.3" r="4.8"/><circle cx="1430.04" cy="254.51" r="4.8"/><circle cx="1438.08" cy="256.72" r="4.8"/><circle cx="1446.12" cy="258.93" r="4.8"/><circle cx="1454.17" cy="261.15" r="4.8"/><circle cx="1462.21" cy="263.36" r="4.8"/><circle cx="1470.25" cy="265.43" r="4.8"/><circle cx="1478.29" cy="263.22" r="4.8"/><circle cx="1486.33" cy="261.01" r="4.8"/><circle cx="1494.38" cy="258.8" r="4.8"/><circle cx="1502.42" cy="256.59" r="4.8"/><circle cx="1510.46" cy="254.37" r="4.8"/><circle cx="1518.5" cy="252.16" r="4.8"/><circle cx="1426.02" cy="257.91" r="4.8"/><circle cx="1434.06" cy="260.12" r="4.8"/><circle cx="1442.1" cy="262.33" r="4.8"/><circle cx="1450.15" cy="264.54" r="4.8"/><circle cx="1458.19" cy="266.75" r="4.8"/><circle cx="1466.23" cy="268.96" r="4.8"/><circle cx="1474.27" cy="268.83" r="4.8"/><circle cx="1482.31" cy="266.61" r="4.8"/><circle cx="1490.35" cy="264.4" r="4.8"/><circle cx="1498.4" cy="262.19" r="4.8"/><circle cx="1506.44" cy="259.98" r="4.8"/><circle cx="1514.48" cy="257.77" r="4.8"/><circle cx="1422" cy="273.6" r="4.8"/><circle cx="1430.77" cy="275.56" r="4.8"/><circle cx="1439.55" cy="277.51" r="4.8"/><circle cx="1448.32" cy="279.47" r="4.8"/><circle cx="1457.09" cy="281.42" r="4.8"/><circle cx="1465.86" cy="283.38" r="4.8"/><circle cx="1474.64" cy="283.27" r="4.8"/><circle cx="1483.41" cy="281.31" r="4.8"/><circle cx="1492.18" cy="279.36" r="4.8"/><circle cx="1500.95" cy="277.4" r="4.8"/><circle cx="1509.73" cy="275.44" r="4.8"/><circle cx="1518.5" cy="273.49" r="4.8"/><circle cx="1426.39" cy="279.08" r="4.8"/><circle cx="1435.16" cy="281.03" r="4.8"/><circle cx="1443.93" cy="282.99" r="4.8"/><circle cx="1452.7" cy="284.94" r="4.8"/><circle cx="1461.48" cy="286.9" r="4.8"/><circle cx="1470.25" cy="288.74" r="4.8"/><circle cx="1479.02" cy="286.79" r="4.8"/><circle cx="1487.8" cy="284.83" r="4.8"/><circle cx="1496.57" cy="282.88" r="4.8"/><circle cx="1505.34" cy="280.92" r="4.8"/><circle cx="1514.11" cy="278.97" r="4.8"/><circle cx="1422" cy="288.1" r="4.8"/><circle cx="1430.04" cy="290.41" r="4.8"/><circle cx="1438.08" cy="292.72" r="4.8"/><circle cx="1446.12" cy="295.04" r="4.8"/><circle cx="1454.17" cy="297.35" r="4.8"/><circle cx="1462.21" cy="299.66" r="4.8"/><circle cx="1470.25" cy="301.83" r="4.8"/><circle cx="1478.29" cy="299.52" r="4.8"/><circle cx="1486.33" cy="297.2" r="4.8"/><circle cx="1494.38" cy="294.89" r="4.8"/><circle cx="1502.42" cy="292.58" r="4.8"/><circle cx="1510.46" cy="290.27" r="4.8"/><circle cx="1518.5" cy="287.96" r="4.8"/><circle cx="1426.02" cy="293.76" r="4.8"/><circle cx="1434.06" cy="296.07" r="4.8"/><circle cx="1442.1" cy="298.38" r="4.8"/><circle cx="1450.15" cy="300.69" r="4.8"/><circle cx="1458.19" cy="303" r="4.8"/><circle cx="1466.23" cy="305.32" r="4.8"/><circle cx="1474.27" cy="305.17" r="4.8"/><circle cx="1482.31" cy="302.86" r="4.8"/><circle cx="1490.35" cy="300.55" r="4.8"/><circle cx="1498.4" cy="298.24" r="4.8"/><circle cx="1506.44" cy="295.92" r="4.8"/><circle cx="1514.48" cy="293.61" r="4.8"/><circle cx="1422" cy="304.4" r="4.8"/><circle cx="1430.77" cy="306.92" r="4.8"/><circle cx="1439.55" cy="309.44" r="4.8"/><circle cx="1448.32" cy="311.97" r="4.8"/><circle cx="1457.09" cy="314.49" r="4.8"/><circle cx="1465.86" cy="317.01" r="4.8"/><circle cx="1474.64" cy="316.87" r="4.8"/><circle cx="1483.41" cy="314.34" r="4.8"/><circle cx="1492.18" cy="311.82" r="4.8"/><circle cx="1500.95" cy="309.3" r="4.8"/><circle cx="1509.73" cy="306.78" r="4.8"/><circle cx="1518.5" cy="304.26" r="4.8"/><circle cx="1426.39" cy="310.16" r="4.8"/><circle cx="1435.16" cy="312.68" r="4.8"/><circle cx="1443.93" cy="315.21" r="4.8"/><circle cx="1452.7" cy="317.73" r="4.8"/><circle cx="1461.48" cy="320.25" r="4.8"/><circle cx="1470.25" cy="322.63" r="4.8"/><circle cx="1479.02" cy="320.11" r="4.8"/><circle cx="1487.8" cy="317.58" r="4.8"/><circle cx="1496.57" cy="315.06" r="4.8"/><circle cx="1505.34" cy="312.54" r="4.8"/><circle cx="1514.11" cy="310.02" r="4.8"/></g><line x1="1634.6" y1="193.7" x2="1634.6" y2="283" stroke="#000" stroke-width="4.6" stroke-linecap="butt"/><line x1="1607.4" y1="193.7" x2="1662.2" y2="193.7" stroke="#000" stroke-width="4.6" stroke-linecap="butt"/><line x1="1607.4" y1="283" x2="1662.2" y2="283" stroke="#000" stroke-width="4.6" stroke-linecap="butt"/><line x1="1580" y1="238.2" x2="1689.8" y2="238.2" stroke="#000" stroke-width="5" stroke-linecap="butt"/><g fill="#f4e6e6" stroke="#e0260f" stroke-width="2.5"><circle cx="1619.31" cy="148.16" r="5.1"/><circle cx="1634.62" cy="153.8" r="5.1"/><circle cx="1650.05" cy="151.29" r="5.1"/><circle cx="1611.78" cy="159.45" r="5.1"/><circle cx="1657.83" cy="159.45" r="5.1"/><circle cx="1627.09" cy="167.35" r="5.1"/><circle cx="1642.52" cy="172.87" r="5.1"/><circle cx="1619.31" cy="181.15" r="5.1"/><circle cx="1650.05" cy="183.91" r="5.1"/><circle cx="1634.62" cy="192.45" r="5.1"/><circle cx="1586.94" cy="199.97" r="5.1"/><circle cx="1600.49" cy="203.99" r="5.1"/><circle cx="1614.17" cy="205.87" r="5.1"/><circle cx="1627.47" cy="208.13" r="5.1"/><circle cx="1641.52" cy="212.52" r="5.1"/><circle cx="1655.32" cy="207.5" r="5.1"/><circle cx="1669.12" cy="205.5" r="5.1"/><circle cx="1682.67" cy="202.11" r="5.1"/><circle cx="1588.57" cy="221.3" r="5.1"/><circle cx="1603.88" cy="225.95" r="5.1"/><circle cx="1619.31" cy="226.95" r="5.1"/><circle cx="1634.62" cy="228.83" r="5.1"/><circle cx="1650.05" cy="227.58" r="5.1"/><circle cx="1665.61" cy="225.95" r="5.1"/><circle cx="1681.04" cy="225.7" r="5.1"/><circle cx="1627.09" cy="237.62" r="5.1"/><circle cx="1642.52" cy="239.12" r="5.1"/><circle cx="1592.33" cy="242.26" r="5.1"/><circle cx="1600.11" cy="242.89" r="5.1"/><circle cx="1607.64" cy="243.89" r="5.1"/><circle cx="1615.42" cy="247.65" r="5.1"/><circle cx="1622.7" cy="248.28" r="5.1"/><circle cx="1630.85" cy="248.91" r="5.1"/><circle cx="1638.76" cy="251.04" r="5.1"/><circle cx="1646.29" cy="249.16" r="5.1"/><circle cx="1653.81" cy="247.9" r="5.1"/><circle cx="1661.59" cy="244.14" r="5.1"/><circle cx="1669.12" cy="242.89" r="5.1"/><circle cx="1677.28" cy="242.26" r="5.1"/><circle cx="1657.83" cy="254.18" r="5.1"/><circle cx="1611.78" cy="257.57" r="5.1"/><circle cx="1642.52" cy="261.71" r="5.1"/><circle cx="1588.57" cy="267.98" r="5.1"/><circle cx="1603.88" cy="269.23" r="5.1"/><circle cx="1627.09" cy="266.73" r="5.1"/><circle cx="1650.05" cy="272.75" r="5.1"/><circle cx="1665.61" cy="268.61" r="5.1"/><circle cx="1681.04" cy="267.35" r="5.1"/><circle cx="1619.31" cy="278.64" r="5.1"/><circle cx="1634.62" cy="282.41" r="5.1"/><circle cx="1588.57" cy="287.43" r="5.1"/><circle cx="1603.88" cy="289.94" r="5.1"/><circle cx="1657.83" cy="288.68" r="5.1"/><circle cx="1673.14" cy="286.17" r="5.1"/><circle cx="1619.31" cy="298.72" r="5.1"/><circle cx="1627.09" cy="301.86" r="5.1"/><circle cx="1642.52" cy="296.21" r="5.1"/><circle cx="1650.05" cy="315.66" r="5.1"/><circle cx="1642.52" cy="330.72" r="5.1"/><circle cx="1627.09" cy="334.48" r="5.1"/></g><line x1="1478" y1="120.4" x2="1634" y2="120.4" stroke="#000" stroke-width="4.2" stroke-linecap="butt"/><text x="1556.5" y="118.5" font-size="34" text-anchor="middle" fill="#000" stroke="#000" stroke-width="0.5">*</text><line x1="1359.7" y1="100.8" x2="1359.7" y2="361.5" stroke="#000" stroke-width="4.8" stroke-linecap="butt"/><line x1="1357.3" y1="359.2" x2="1747" y2="359.2" stroke="#000" stroke-width="4.8" stroke-linecap="butt"/><line x1="1352.2" y1="359.2" x2="1359.7" y2="359.2" stroke="#000" stroke-width="4.6" stroke-linecap="butt"/><text x="1352" y="366.6" font-size="21.3" font-weight="bold" text-anchor="end" fill="#000" stroke="#000" stroke-width="0">0.0</text><line x1="1352.2" y1="307.84" x2="1359.7" y2="307.84" stroke="#000" stroke-width="4.6" stroke-linecap="butt"/><text x="1352" y="315.24" font-size="21.3" font-weight="bold" text-anchor="end" fill="#000" stroke="#000" stroke-width="0">0.2</text><line x1="1352.2" y1="256.48" x2="1359.7" y2="256.48" stroke="#000" stroke-width="4.6" stroke-linecap="butt"/><text x="1352" y="263.88" font-size="21.3" font-weight="bold" text-anchor="end" fill="#000" stroke="#000" stroke-width="0">0.4</text><line x1="1352.2" y1="205.12" x2="1359.7" y2="205.12" stroke="#000" stroke-width="4.6" stroke-linecap="butt"/><text x="1352" y="212.52" font-size="21.3" font-weight="bold" text-anchor="end" fill="#000" stroke="#000" stroke-width="0">0.6</text><line x1="1352.2" y1="153.76" x2="1359.7" y2="153.76" stroke="#000" stroke-width="4.6" stroke-linecap="butt"/><text x="1352" y="161.16" font-size="21.3" font-weight="bold" text-anchor="end" fill="#000" stroke="#000" stroke-width="0">0.8</text><line x1="1352.2" y1="102.4" x2="1359.7" y2="102.4" stroke="#000" stroke-width="4.6" stroke-linecap="butt"/><text x="1352" y="109.8" font-size="21.3" font-weight="bold" text-anchor="end" fill="#000" stroke="#000" stroke-width="0">1.0</text><line x1="1469.3" y1="359.2" x2="1469.3" y2="366" stroke="#000" stroke-width="4.6" stroke-linecap="butt"/><line x1="1634" y1="359.2" x2="1634" y2="366" stroke="#000" stroke-width="4.6" stroke-linecap="butt"/><text x="370" y="505.8" font-size="27.8" fill="#000" stroke="#000" stroke-width="0.5">TSS</text><text x="3.5" y="581.6" font-size="27.8" fill="#000" stroke="#000" stroke-width="0.5">LNMAS promoter</text><path d="M402.1 577V521.3H427" fill="none" stroke="#0b0b0b" stroke-width="3.6"/><path d="M425 506.6L481 521.4L425 535.8Z" fill="#0b0b0b"/><line x1="260.4" y1="575.9" x2="984.6" y2="575.9" stroke="#1a1412" stroke-width="4" stroke-linecap="butt"/><line x1="316.4" y1="560.3" x2="316.4" y2="576" stroke="#1a1412" stroke-width="3.1" stroke-linecap="butt"/><text x="314.9" y="553.9" font-size="27.8" text-anchor="middle" fill="#000" stroke="#000" stroke-width="0.5">-100</text><line x1="491.4" y1="560.3" x2="491.4" y2="576" stroke="#1a1412" stroke-width="3.1" stroke-linecap="butt"/><text x="491.4" y="553.9" font-size="27.8" text-anchor="middle" fill="#000" stroke="#000" stroke-width="0.5">100</text><line x1="578.9" y1="560.3" x2="578.9" y2="576" stroke="#1a1412" stroke-width="3.1" stroke-linecap="butt"/><text x="578.9" y="553.9" font-size="27.8" text-anchor="middle" fill="#000" stroke="#000" stroke-width="0.5">200</text><line x1="666.4" y1="560.3" x2="666.4" y2="576" stroke="#1a1412" stroke-width="3.1" stroke-linecap="butt"/><text x="666.4" y="553.9" font-size="27.8" text-anchor="middle" fill="#000" stroke="#000" stroke-width="0.5">300</text><line x1="753.9" y1="560.3" x2="753.9" y2="576" stroke="#1a1412" stroke-width="3.1" stroke-linecap="butt"/><text x="753.9" y="553.9" font-size="27.8" text-anchor="middle" fill="#000" stroke="#000" stroke-width="0.5">400</text><line x1="841.4" y1="560.3" x2="841.4" y2="576" stroke="#1a1412" stroke-width="3.1" stroke-linecap="butt"/><text x="841.4" y="553.9" font-size="27.8" text-anchor="middle" fill="#000" stroke="#000" stroke-width="0.5">500</text><line x1="928.9" y1="560.3" x2="928.9" y2="576" stroke="#1a1412" stroke-width="3.1" stroke-linecap="butt"/><text x="928.9" y="553.9" font-size="27.8" text-anchor="middle" fill="#000" stroke="#000" stroke-width="0.5">600</text><rect x="478.5" y="600.2" width="18.1" height="9.8" fill="#1a1412"/><rect x="494.3" y="600.2" width="2.3" height="9.8" fill="#e0261b"/><rect x="553.8" y="600.2" width="18.2" height="9.8" fill="#1a1412"/><rect x="569.7" y="600.2" width="2.3" height="9.8" fill="#e0261b"/><rect x="730.3" y="600.2" width="18" height="9.8" fill="#1a1412"/><rect x="746" y="600.2" width="2.3" height="9.8" fill="#e0261b"/><text x="407.3" y="643.5" font-size="27.2" fill="#000" stroke="#000" stroke-width="0.5">gRNA1</text><text x="530.3" y="643.5" font-size="27.2" fill="#000" stroke="#000" stroke-width="0.5">gRNA2</text><text x="686.3" y="643.5" font-size="27.2" fill="#000" stroke="#000" stroke-width="0.5">gRNA3</text><path d="M488.6 576.9L496.9 596.4L488.6 592.6L480.3 596.4Z" fill="#e03a34"/><path d="M492.2 576.9L500.5 596.4L492.2 592.6L483.9 596.4Z" fill="#e03a34"/><path d="M509 576.9L517.3 596.4L509 592.6L500.7 596.4Z" fill="#e03a34"/><path d="M534.8 576.9L543.1 596.4L534.8 592.6L526.5 596.4Z" fill="#e03a34"/><path d="M577.7 576.9L586 596.4L577.7 592.6L569.4 596.4Z" fill="#e03a34"/><path d="M613.7 576.9L622 596.4L613.7 592.6L605.4 596.4Z" fill="#e03a34"/><path d="M635 576.9L643.3 596.4L635 592.6L626.7 596.4Z" fill="#e03a34"/><path d="M666.1 576.9L674.4 596.4L666.1 592.6L657.8 596.4Z" fill="#e03a34"/><path d="M686.1 576.9L694.4 596.4L686.1 592.6L677.8 596.4Z" fill="#2b2523"/><path d="M695.7 576.9L704 596.4L695.7 592.6L687.4 596.4Z" fill="#e03a34"/><path d="M708.7 576.9L717 596.4L708.7 592.6L700.4 596.4Z" fill="#2b2523"/><path d="M713.5 576.9L721.8 596.4L713.5 592.6L705.2 596.4Z" fill="#2b2523"/><path d="M723.4 576.9L731.7 596.4L723.4 592.6L715.1 596.4Z" fill="#2b2523"/><path d="M753.9 576.9L762.2 596.4L753.9 592.6L745.6 596.4Z" fill="#e03a34"/><path d="M21.4 611.7L29.9 630.3L21.4 625.3L12.9 630.3Z" fill="#2b2523"/><text x="44.4" y="624.5" font-size="27.8" fill="#000" stroke="#000" stroke-width="0.5">CpG site</text><rect x="189" y="609.7" width="17" height="9.7" fill="#1a1412"/><rect x="204" y="609.7" width="2.2" height="9.7" fill="#e0261b"/><text x="221" y="627.4" font-size="27.8" fill="#000" stroke="#000" stroke-width="0.5">gRNA</text><path d="M21.4 646L29.9 665.2L21.4 660.2L12.9 665.2Z" fill="#e03a34"/><text x="45.9" y="663.2" font-size="27.8" fill="#000" stroke="#000" stroke-width="0.5">Sequenced CpG site</text><rect x="1303.5" y="519.1" width="391.3" height="157.3" fill="url(#gel)"/><clipPath id="gelclip"><rect x="1303.5" y="519.1" width="391.3" height="157.3"/></clipPath><g clip-path="url(#gelclip)"><rect x="1333" y="532" width="67" height="31" fill="#ffffff" opacity="0.14" filter="url(#blur2)"/><rect x="1334.5" y="533.3" width="15" height="28.7" fill="#ffffff" opacity="0.45" filter="url(#blur1)"/><rect x="1343.5" y="533.5" width="5" height="28.5" fill="#ffffff" opacity="0.85" filter="url(#blur1)"/><rect x="1375.6" y="533.3" width="22.9" height="28.7" fill="#ffffff" opacity="0.35" filter="url(#blur1)"/><rect x="1377.5" y="533.5" width="4" height="28.5" fill="#ffffff" opacity="0.9" filter="url(#blur1)"/><rect x="1391.5" y="533.5" width="6.5" height="28.5" fill="#ffffff" opacity="0.95" filter="url(#blur1)"/><rect x="1428" y="576" width="5" height="31" fill="#ffffff" opacity="0.18" filter="url(#blur1)"/><rect x="1457.5" y="576" width="5.5" height="31" fill="#ffffff" opacity="0.85" filter="url(#blur1)"/><rect x="1519.8" y="576" width="6.9" height="31" fill="#ffffff" opacity="0.2" filter="url(#blur2)"/><rect x="1536" y="576" width="20" height="31" fill="#ffffff" opacity="0.2" filter="url(#blur2)"/><rect x="1580" y="576" width="20" height="31" fill="#ffffff" opacity="0.18" filter="url(#blur2)"/><rect x="1436.2" y="620.5" width="8" height="27" fill="#ffffff" opacity="0.26" filter="url(#blur15)"/><rect x="1451" y="620.5" width="9.3" height="27" fill="#ffffff" opacity="0.28" filter="url(#blur15)"/><rect x="1467" y="620.5" width="16" height="27" fill="#ffffff" opacity="0.27" filter="url(#blur15)"/><rect x="1485.5" y="620.5" width="9.1" height="27" fill="#ffffff" opacity="0.32" filter="url(#blur15)"/><rect x="1498" y="620.5" width="7" height="27" fill="#ffffff" opacity="0.34" filter="url(#blur15)"/><rect x="1511.8" y="620.5" width="6.9" height="27" fill="#ffffff" opacity="0.38" filter="url(#blur15)"/><rect x="1527.8" y="620.5" width="6.9" height="27" fill="#ffffff" opacity="0.78" filter="url(#blur15)"/><rect x="1547.3" y="620.5" width="5.7" height="27" fill="#ffffff" opacity="0.4" filter="url(#blur15)"/><rect x="1571.3" y="620.5" width="4.6" height="27" fill="#ffffff" opacity="0.3" filter="url(#blur15)"/><rect x="1600" y="620.5" width="5.7" height="27" fill="#ffffff" opacity="0.27" filter="url(#blur15)"/><rect x="1641.2" y="620.5" width="6.8" height="27" fill="#ffffff" opacity="0.14" filter="url(#blur15)"/><ellipse cx="1320.8" cy="548.2" rx="8.3" ry="15.7" fill="#2a2a2a" stroke="#8c8c8c" stroke-width="2.8" opacity="0.9" filter="url(#blur05)"/><ellipse cx="1320.3" cy="548.2" rx="3.4" ry="11.2" fill="#121212"/><ellipse cx="1320.8" cy="592.3" rx="8.3" ry="15.1" fill="#2a2a2a" stroke="#8c8c8c" stroke-width="2.8" opacity="0.9" filter="url(#blur05)"/><ellipse cx="1320.3" cy="592.3" rx="3.4" ry="10.6" fill="#121212"/><ellipse cx="1320.8" cy="637.5" rx="8.3" ry="15.7" fill="#2a2a2a" stroke="#8c8c8c" stroke-width="2.8" opacity="0.9" filter="url(#blur05)"/><ellipse cx="1320.3" cy="637.5" rx="3.4" ry="11.2" fill="#121212"/></g><circle cx="1506.8" cy="545.5" r="1.1" fill="#ddd"/><text x="1264.8" y="557" font-size="27.8" text-anchor="end" fill="#000" stroke="#000" stroke-width="0.5">Meth-LNMAS</text><text x="1264.8" y="598.8" font-size="27.8" text-anchor="end" fill="#000" stroke="#000" stroke-width="0.5">UnMeth-LNMAS</text><text x="1264.8" y="644.7" font-size="27.8" text-anchor="end" fill="#000" stroke="#000" stroke-width="0.5">DNA ladder</text><text x="1492" y="729.5" font-size="20.8" fill="#000" stroke="#000" stroke-width="0.5" transform="rotate(-44 1492 729.5)">500bp</text><text x="1565.5" y="730.5" font-size="20.8" fill="#000" stroke="#000" stroke-width="0.5" transform="rotate(-44 1565.5 730.5)">200bp</text><text x="1617" y="726.5" font-size="20.8" fill="#000" stroke="#000" stroke-width="0.5" transform="rotate(-44 1617 726.5)">100bp</text><text x="27" y="1095.9" font-size="27" fill="#000" stroke="#000" stroke-width="0.5" transform="rotate(-90 27 1095.9)">Percentage of Methylation</text><line x1="106.2" y1="799.8" x2="136.8" y2="799.8" stroke="#000" stroke-width="4.5" stroke-linecap="butt"/><circle cx="121.4" cy="799.9" r="5.1" fill="#f2f2f2" stroke="#0b0b0b" stroke-width="2.3"/><text x="153.3" y="808.2" font-size="19.5" fill="#000" stroke="#000" stroke-width="0.5">LNneg</text><line x1="106.2" y1="838" x2="136.8" y2="838" stroke="#000" stroke-width="4.5" stroke-linecap="butt"/><circle cx="121.4" cy="838" r="5.5" fill="#f5eeee" stroke="#e0301c" stroke-width="4.8"/><text x="153.3" y="845.8" font-size="19.5" fill="#000" stroke="#000" stroke-width="0.5">LNpos</text><line x1="110" y1="996.32" x2="110" y2="1011.7" stroke="#000" stroke-width="4.5" stroke-linecap="butt"/><line x1="104.2" y1="996.32" x2="115.8" y2="996.32" stroke="#000" stroke-width="4.6" stroke-linecap="butt"/><line x1="104.2" y1="1011.7" x2="115.8" y2="1011.7" stroke="#000" stroke-width="4.6" stroke-linecap="butt"/><line x1="155.5" y1="984.78" x2="155.5" y2="1023.89" stroke="#000" stroke-width="4.5" stroke-linecap="butt"/><line x1="149.7" y1="984.78" x2="161.3" y2="984.78" stroke="#000" stroke-width="4.6" stroke-linecap="butt"/><line x1="149.7" y1="1023.89" x2="161.3" y2="1023.89" stroke="#000" stroke-width="4.6" stroke-linecap="butt"/><line x1="201.3" y1="1040.55" x2="201.3" y2="1058.18" stroke="#000" stroke-width="4.5" stroke-linecap="butt"/><line x1="195.5" y1="1040.55" x2="207.1" y2="1040.55" stroke="#000" stroke-width="4.6" stroke-linecap="butt"/><line x1="195.5" y1="1058.18" x2="207.1" y2="1058.18" stroke="#000" stroke-width="4.6" stroke-linecap="butt"/><line x1="246.8" y1="939.9" x2="246.8" y2="988.62" stroke="#000" stroke-width="4.5" stroke-linecap="butt"/><line x1="241" y1="939.9" x2="252.6" y2="939.9" stroke="#000" stroke-width="4.6" stroke-linecap="butt"/><line x1="241" y1="988.62" x2="252.6" y2="988.62" stroke="#000" stroke-width="4.6" stroke-linecap="butt"/><line x1="292.7" y1="1025.17" x2="292.7" y2="1043.76" stroke="#000" stroke-width="4.5" stroke-linecap="butt"/><line x1="286.9" y1="1025.17" x2="298.5" y2="1025.17" stroke="#000" stroke-width="4.6" stroke-linecap="butt"/><line x1="286.9" y1="1043.76" x2="298.5" y2="1043.76" stroke="#000" stroke-width="4.6" stroke-linecap="butt"/><line x1="338.8" y1="1018.76" x2="338.8" y2="1039.91" stroke="#000" stroke-width="4.5" stroke-linecap="butt"/><line x1="333" y1="1018.76" x2="344.6" y2="1018.76" stroke="#000" stroke-width="4.6" stroke-linecap="butt"/><line x1="333" y1="1039.91" x2="344.6" y2="1039.91" stroke="#000" stroke-width="4.6" stroke-linecap="butt"/><line x1="384.6" y1="1009.14" x2="384.6" y2="1043.76" stroke="#000" stroke-width="4.5" stroke-linecap="butt"/><line x1="378.8" y1="1009.14" x2="390.4" y2="1009.14" stroke="#000" stroke-width="4.6" stroke-linecap="butt"/><line x1="378.8" y1="1043.76" x2="390.4" y2="1043.76" stroke="#000" stroke-width="4.6" stroke-linecap="butt"/><line x1="430.5" y1="1043.76" x2="430.5" y2="1059.15" stroke="#000" stroke-width="4.5" stroke-linecap="butt"/><line x1="424.7" y1="1043.76" x2="436.3" y2="1043.76" stroke="#000" stroke-width="4.6" stroke-linecap="butt"/><line x1="424.7" y1="1059.15" x2="436.3" y2="1059.15" stroke="#000" stroke-width="4.6" stroke-linecap="butt"/><line x1="476.3" y1="996.32" x2="476.3" y2="1033.5" stroke="#000" stroke-width="4.5" stroke-linecap="butt"/><line x1="470.5" y1="996.32" x2="482.1" y2="996.32" stroke="#000" stroke-width="4.6" stroke-linecap="butt"/><line x1="470.5" y1="1033.5" x2="482.1" y2="1033.5" stroke="#000" stroke-width="4.6" stroke-linecap="butt"/><path d="M110 1004.33 L155.5 1004.33 L201.3 1048.57 L246.8 964.26 L292.7 1034.14 L338.8 1029.98 L384.6 1026.13 L430.5 1050.81 L476.3 1015.55" fill="none" stroke="#0b0b0b" stroke-width="4.6" stroke-linejoin="round"/><path d="M110 930.92 L155.5 937.98 L201.3 1006.25 L246.8 888.29 L292.7 959.77 L338.8 944.39 L384.6 937.02 L430.5 1006.25 L476.3 945.35" fill="none" stroke="#0b0b0b" stroke-width="4.6" stroke-linejoin="round"/><circle cx="110" cy="1004.33" r="5.3" fill="#f2f2f2" stroke="#0b0b0b" stroke-width="2.6"/><circle cx="155.5" cy="1004.33" r="5.3" fill="#f2f2f2" stroke="#0b0b0b" stroke-width="2.6"/><circle cx="201.3" cy="1048.57" r="5.3" fill="#f2f2f2" stroke="#0b0b0b" stroke-width="2.6"/><circle cx="246.8" cy="964.26" r="5.3" fill="#f2f2f2" stroke="#0b0b0b" stroke-width="2.6"/><circle cx="292.7" cy="1034.14" r="5.3" fill="#f2f2f2" stroke="#0b0b0b" stroke-width="2.6"/><circle cx="338.8" cy="1029.98" r="5.3" fill="#f2f2f2" stroke="#0b0b0b" stroke-width="2.6"/><circle cx="384.6" cy="1026.13" r="5.3" fill="#f2f2f2" stroke="#0b0b0b" stroke-width="2.6"/><circle cx="430.5" cy="1050.81" r="5.3" fill="#f2f2f2" stroke="#0b0b0b" stroke-width="2.6"/><circle cx="476.3" cy="1015.55" r="5.3" fill="#f2f2f2" stroke="#0b0b0b" stroke-width="2.6"/><line x1="110" y1="905.28" x2="110" y2="956.57" stroke="#e0301c" stroke-width="4.5" stroke-linecap="butt"/><line x1="104.4" y1="905.28" x2="115.6" y2="905.28" stroke="#e0301c" stroke-width="4.5" stroke-linecap="butt"/><line x1="104.4" y1="956.57" x2="115.6" y2="956.57" stroke="#e0301c" stroke-width="4.5" stroke-linecap="butt"/><line x1="155.5" y1="909.77" x2="155.5" y2="965.22" stroke="#e0301c" stroke-width="4.5" stroke-linecap="butt"/><line x1="149.9" y1="909.77" x2="161.1" y2="909.77" stroke="#e0301c" stroke-width="4.5" stroke-linecap="butt"/><line x1="149.9" y1="965.22" x2="161.1" y2="965.22" stroke="#e0301c" stroke-width="4.5" stroke-linecap="butt"/><line x1="201.3" y1="975.48" x2="201.3" y2="1037.35" stroke="#e0301c" stroke-width="4.5" stroke-linecap="butt"/><line x1="195.7" y1="975.48" x2="206.9" y2="975.48" stroke="#e0301c" stroke-width="4.5" stroke-linecap="butt"/><line x1="195.7" y1="1037.35" x2="206.9" y2="1037.35" stroke="#e0301c" stroke-width="4.5" stroke-linecap="butt"/><line x1="246.8" y1="875.47" x2="246.8" y2="901.11" stroke="#e0301c" stroke-width="4.5" stroke-linecap="butt"/><line x1="241.2" y1="875.47" x2="252.4" y2="875.47" stroke="#e0301c" stroke-width="4.5" stroke-linecap="butt"/><line x1="241.2" y1="901.11" x2="252.4" y2="901.11" stroke="#e0301c" stroke-width="4.5" stroke-linecap="butt"/><line x1="292.7" y1="926.12" x2="292.7" y2="993.11" stroke="#e0301c" stroke-width="4.5" stroke-linecap="butt"/><line x1="287.1" y1="926.12" x2="298.3" y2="926.12" stroke="#e0301c" stroke-width="4.5" stroke-linecap="butt"/><line x1="287.1" y1="993.11" x2="298.3" y2="993.11" stroke="#e0301c" stroke-width="4.5" stroke-linecap="butt"/><line x1="338.8" y1="904.32" x2="338.8" y2="984.46" stroke="#e0301c" stroke-width="4.5" stroke-linecap="butt"/><line x1="333.2" y1="904.32" x2="344.4" y2="904.32" stroke="#e0301c" stroke-width="4.5" stroke-linecap="butt"/><line x1="333.2" y1="984.46" x2="344.4" y2="984.46" stroke="#e0301c" stroke-width="4.5" stroke-linecap="butt"/><line x1="384.6" y1="894.7" x2="384.6" y2="977.08" stroke="#e0301c" stroke-width="4.5" stroke-linecap="butt"/><line x1="379" y1="894.7" x2="390.2" y2="894.7" stroke="#e0301c" stroke-width="4.5" stroke-linecap="butt"/><line x1="379" y1="977.08" x2="390.2" y2="977.08" stroke="#e0301c" stroke-width="4.5" stroke-linecap="butt"/><line x1="430.5" y1="977.4" x2="430.5" y2="1032.54" stroke="#e0301c" stroke-width="4.5" stroke-linecap="butt"/><line x1="424.9" y1="977.4" x2="436.1" y2="977.4" stroke="#e0301c" stroke-width="4.5" stroke-linecap="butt"/><line x1="424.9" y1="1032.54" x2="436.1" y2="1032.54" stroke="#e0301c" stroke-width="4.5" stroke-linecap="butt"/><line x1="476.3" y1="908.49" x2="476.3" y2="982.21" stroke="#e0301c" stroke-width="4.5" stroke-linecap="butt"/><line x1="470.7" y1="908.49" x2="481.9" y2="908.49" stroke="#e0301c" stroke-width="4.5" stroke-linecap="butt"/><line x1="470.7" y1="982.21" x2="481.9" y2="982.21" stroke="#e0301c" stroke-width="4.5" stroke-linecap="butt"/><circle cx="110" cy="930.92" r="5.5" fill="#f5eeee" stroke="#e0301c" stroke-width="4.8"/><circle cx="155.5" cy="937.98" r="5.5" fill="#f5eeee" stroke="#e0301c" stroke-width="4.8"/><circle cx="201.3" cy="1006.25" r="5.5" fill="#f5eeee" stroke="#e0301c" stroke-width="4.8"/><circle cx="246.8" cy="888.29" r="5.5" fill="#f5eeee" stroke="#e0301c" stroke-width="4.8"/><circle cx="292.7" cy="959.77" r="5.5" fill="#f5eeee" stroke="#e0301c" stroke-width="4.8"/><circle cx="338.8" cy="944.39" r="5.5" fill="#f5eeee" stroke="#e0301c" stroke-width="4.8"/><circle cx="384.6" cy="937.02" r="5.5" fill="#f5eeee" stroke="#e0301c" stroke-width="4.8"/><circle cx="430.5" cy="1006.25" r="5.5" fill="#f5eeee" stroke="#e0301c" stroke-width="4.8"/><circle cx="476.3" cy="945.35" r="5.5" fill="#f5eeee" stroke="#e0301c" stroke-width="4.8"/><text x="110" y="906.19" font-size="31" text-anchor="middle" fill="#000" stroke="#000" stroke-width="0.5" textLength="26.5" lengthAdjust="spacingAndGlyphs">**</text><text x="155.5" y="912.6" font-size="31" text-anchor="middle" fill="#000" stroke="#000" stroke-width="0.5" textLength="26.5" lengthAdjust="spacingAndGlyphs">**</text><text x="201.3" y="976.71" font-size="31" text-anchor="middle" fill="#000" stroke="#000" stroke-width="0.5" textLength="12.6" lengthAdjust="spacingAndGlyphs">*</text><text x="246.8" y="883.75" font-size="31" text-anchor="middle" fill="#000" stroke="#000" stroke-width="0.5" textLength="26.5" lengthAdjust="spacingAndGlyphs">**</text><text x="292.7" y="930.23" font-size="31" text-anchor="middle" fill="#000" stroke="#000" stroke-width="0.5" textLength="26.5" lengthAdjust="spacingAndGlyphs">**</text><text x="338.8" y="907.79" font-size="31" text-anchor="middle" fill="#000" stroke="#000" stroke-width="0.5" textLength="26.5" lengthAdjust="spacingAndGlyphs">**</text><text x="384.6" y="899.78" font-size="31" text-anchor="middle" fill="#000" stroke="#000" stroke-width="0.5" textLength="26.5" lengthAdjust="spacingAndGlyphs">**</text><text x="430.5" y="979.92" font-size="31" text-anchor="middle" fill="#000" stroke="#000" stroke-width="0.5" textLength="26.5" lengthAdjust="spacingAndGlyphs">**</text><text x="476.3" y="919.01" font-size="31" text-anchor="middle" fill="#000" stroke="#000" stroke-width="0.5" textLength="26.5" lengthAdjust="spacingAndGlyphs">**</text><line x1="80.2" y1="796.5" x2="80.2" y2="1084.5" stroke="#000" stroke-width="5.2" stroke-linecap="butt"/><line x1="73" y1="1082.2" x2="508" y2="1082.2" stroke="#000" stroke-width="4.8" stroke-linecap="butt"/><line x1="71.9" y1="1082.2" x2="80.2" y2="1082.2" stroke="#000" stroke-width="4.8" stroke-linecap="butt"/><text x="68.5" y="1089.7" font-size="21.5" font-weight="bold" text-anchor="end" fill="#000" stroke="#000" stroke-width="0">0.0</text><line x1="71.9" y1="963.7" x2="80.2" y2="963.7" stroke="#000" stroke-width="4.8" stroke-linecap="butt"/><text x="68.5" y="971.2" font-size="21.5" font-weight="bold" text-anchor="end" fill="#000" stroke="#000" stroke-width="0">0.5</text><line x1="71.9" y1="845.2" x2="80.2" y2="845.2" stroke="#000" stroke-width="4.8" stroke-linecap="butt"/><text x="68.5" y="852.7" font-size="21.5" font-weight="bold" text-anchor="end" fill="#000" stroke="#000" stroke-width="0">1.0</text><line x1="110" y1="1082.2" x2="110" y2="1090.5" stroke="#000" stroke-width="4.8" stroke-linecap="butt"/><text x="120.5" y="1116.5" font-size="27.8" text-anchor="end" fill="#000" stroke="#000" stroke-width="0.5" transform="rotate(-45 120.5 1116.5)">CpG1</text><line x1="155.5" y1="1082.2" x2="155.5" y2="1090.5" stroke="#000" stroke-width="4.8" stroke-linecap="butt"/><text x="166" y="1116.5" font-size="27.8" text-anchor="end" fill="#000" stroke="#000" stroke-width="0.5" transform="rotate(-45 166 1116.5)">CpG2</text><line x1="201.3" y1="1082.2" x2="201.3" y2="1090.5" stroke="#000" stroke-width="4.8" stroke-linecap="butt"/><text x="211.8" y="1116.5" font-size="27.8" text-anchor="end" fill="#000" stroke="#000" stroke-width="0.5" transform="rotate(-45 211.8 1116.5)">CpG3</text><line x1="246.8" y1="1082.2" x2="246.8" y2="1090.5" stroke="#000" stroke-width="4.8" stroke-linecap="butt"/><text x="257.3" y="1116.5" font-size="27.8" text-anchor="end" fill="#000" stroke="#000" stroke-width="0.5" transform="rotate(-45 257.3 1116.5)">CpG4</text><line x1="292.7" y1="1082.2" x2="292.7" y2="1090.5" stroke="#000" stroke-width="4.8" stroke-linecap="butt"/><text x="303.2" y="1116.5" font-size="27.8" text-anchor="end" fill="#000" stroke="#000" stroke-width="0.5" transform="rotate(-45 303.2 1116.5)">CpG5</text><line x1="338.8" y1="1082.2" x2="338.8" y2="1090.5" stroke="#000" stroke-width="4.8" stroke-linecap="butt"/><text x="349.3" y="1116.5" font-size="27.8" text-anchor="end" fill="#000" stroke="#000" stroke-width="0.5" transform="rotate(-45 349.3 1116.5)">CpG6</text><line x1="384.6" y1="1082.2" x2="384.6" y2="1090.5" stroke="#000" stroke-width="4.8" stroke-linecap="butt"/><text x="395.1" y="1116.5" font-size="27.8" text-anchor="end" fill="#000" stroke="#000" stroke-width="0.5" transform="rotate(-45 395.1 1116.5)">CpG7</text><line x1="430.5" y1="1082.2" x2="430.5" y2="1090.5" stroke="#000" stroke-width="4.8" stroke-linecap="butt"/><text x="441" y="1116.5" font-size="27.8" text-anchor="end" fill="#000" stroke="#000" stroke-width="0.5" transform="rotate(-45 441 1116.5)">CpG8</text><line x1="476.3" y1="1082.2" x2="476.3" y2="1090.5" stroke="#000" stroke-width="4.8" stroke-linecap="butt"/><text x="486.8" y="1116.5" font-size="27.8" text-anchor="end" fill="#000" stroke="#000" stroke-width="0.5" transform="rotate(-45 486.8 1116.5)">CpG9</text><rect x="761.1" y="941.2" width="31.2" height="142.6" fill="#f2f2f2" stroke="#0b0b0b" stroke-width="2.6"/><rect x="807.5" y="928.37" width="31.5" height="155.43" fill="#f6e4e3" stroke="#8e1b15" stroke-width="2.6"/><line x1="823.25" y1="928.37" x2="823.25" y2="898.42" stroke="#8e1b15" stroke-width="2.6" stroke-linecap="butt"/><line x1="816.55" y1="898.42" x2="829.95" y2="898.42" stroke="#8e1b15" stroke-width="2.6" stroke-linecap="butt"/><rect x="854.1" y="916.96" width="31.5" height="166.84" fill="#e6e8f6" stroke="#252a86" stroke-width="2.6"/><line x1="869.85" y1="916.96" x2="869.85" y2="865.62" stroke="#252a86" stroke-width="2.6" stroke-linecap="butt"/><line x1="863.15" y1="865.62" x2="876.55" y2="865.62" stroke="#252a86" stroke-width="2.6" stroke-linecap="butt"/><rect x="932.5" y="941.2" width="31" height="142.6" fill="#f2f2f2" stroke="#0b0b0b" stroke-width="2.6"/><rect x="978.3" y="925.51" width="31.5" height="158.29" fill="#f6e4e3" stroke="#8e1b15" stroke-width="2.6"/><line x1="994.05" y1="925.51" x2="994.05" y2="898.42" stroke="#8e1b15" stroke-width="2.6" stroke-linecap="butt"/><line x1="987.35" y1="898.42" x2="1000.75" y2="898.42" stroke="#8e1b15" stroke-width="2.6" stroke-linecap="butt"/><rect x="1025" y="909.83" width="31.5" height="173.97" fill="#e6e8f6" stroke="#252a86" stroke-width="2.6"/><line x1="1040.75" y1="909.83" x2="1040.75" y2="871.33" stroke="#252a86" stroke-width="2.6" stroke-linecap="butt"/><line x1="1034.05" y1="871.33" x2="1047.45" y2="871.33" stroke="#252a86" stroke-width="2.6" stroke-linecap="butt"/><line x1="745.4" y1="797.1" x2="745.4" y2="1086.3" stroke="#000" stroke-width="5" stroke-linecap="butt"/><line x1="742.9" y1="1083.8" x2="1073.6" y2="1083.8" stroke="#000" stroke-width="5" stroke-linecap="butt"/><line x1="737.4" y1="1083.8" x2="745.4" y2="1083.8" stroke="#000" stroke-width="4.6" stroke-linecap="butt"/><text x="734.6" y="1091.8" font-size="22" font-weight="bold" text-anchor="end" fill="#000" stroke="#000" stroke-width="0">0.0</text><line x1="737.4" y1="1012.5" x2="745.4" y2="1012.5" stroke="#000" stroke-width="4.6" stroke-linecap="butt"/><text x="734.6" y="1020.5" font-size="22" font-weight="bold" text-anchor="end" fill="#000" stroke="#000" stroke-width="0">0.5</text><line x1="737.4" y1="941.2" x2="745.4" y2="941.2" stroke="#000" stroke-width="4.6" stroke-linecap="butt"/><text x="734.6" y="949.2" font-size="22" font-weight="bold" text-anchor="end" fill="#000" stroke="#000" stroke-width="0">1.0</text><line x1="737.4" y1="869.9" x2="745.4" y2="869.9" stroke="#000" stroke-width="4.6" stroke-linecap="butt"/><text x="734.6" y="877.9" font-size="22" font-weight="bold" text-anchor="end" fill="#000" stroke="#000" stroke-width="0">1.5</text><line x1="737.4" y1="798.6" x2="745.4" y2="798.6" stroke="#000" stroke-width="4.6" stroke-linecap="butt"/><text x="734.6" y="806.6" font-size="22" font-weight="bold" text-anchor="end" fill="#000" stroke="#000" stroke-width="0">2.0</text><line x1="823.2" y1="1083.8" x2="823.2" y2="1091" stroke="#000" stroke-width="4.6" stroke-linecap="butt"/><line x1="993.5" y1="1083.8" x2="993.5" y2="1091" stroke="#000" stroke-width="4.6" stroke-linecap="butt"/><text x="694" y="1108.9" font-size="26.9" fill="#000" stroke="#000" stroke-width="0.5" transform="rotate(-90 694 1108.9)">Relative LNMAS expression</text><rect x="762.2" y="765.2" width="31" height="15.7" fill="#f2f2f2" stroke="#0b0b0b" stroke-width="2.6"/><text x="809.5" y="781" font-size="22.4" fill="#000" stroke="#000" stroke-width="0.5">Control</text><rect x="762.2" y="803.9" width="31" height="15.7" fill="#f6e4e3" stroke="#8e1b15" stroke-width="2.6"/><text x="809.5" y="819.7" font-size="22.4" fill="#000" stroke="#000" stroke-width="0.5">2uM</text><rect x="762.2" y="842.5" width="31" height="15.7" fill="#e6e8f6" stroke="#252a86" stroke-width="2.6"/><text x="809.5" y="858.3" font-size="22.4" fill="#000" stroke="#000" stroke-width="0.5">20uM</text><text x="832" y="1114.5" font-size="27.3" text-anchor="end" fill="#000" stroke="#000" stroke-width="0.5" transform="rotate(-45 832 1114.5)">SiHa</text><text x="1002" y="1114.5" font-size="27.3" text-anchor="end" fill="#000" stroke="#000" stroke-width="0.5" transform="rotate(-45 1002 1114.5)">HeLa</text><rect x="1329.3" y="941.2" width="31.8" height="141.6" fill="#f2f2f2" stroke="#0b0b0b" stroke-width="2.6"/><rect x="1376.3" y="937.66" width="31.9" height="145.14" fill="#f6e4e3" stroke="#8e1b15" stroke-width="2.6"/><line x1="1392.25" y1="937.66" x2="1392.25" y2="924.92" stroke="#8e1b15" stroke-width="2.6" stroke-linecap="butt"/><line x1="1385.55" y1="924.92" x2="1398.95" y2="924.92" stroke="#8e1b15" stroke-width="2.6" stroke-linecap="butt"/><rect x="1423.3" y="1046.41" width="31.9" height="36.39" fill="#e6e8f6" stroke="#252a86" stroke-width="2.6"/><line x1="1439.25" y1="1046.41" x2="1439.25" y2="1041.74" stroke="#252a86" stroke-width="2.6" stroke-linecap="butt"/><line x1="1432.55" y1="1041.74" x2="1445.95" y2="1041.74" stroke="#252a86" stroke-width="2.6" stroke-linecap="butt"/><rect x="1500.7" y="941.2" width="31.9" height="141.6" fill="#f2f2f2" stroke="#0b0b0b" stroke-width="2.6"/><rect x="1547.7" y="928.88" width="31.9" height="153.92" fill="#f6e4e3" stroke="#8e1b15" stroke-width="2.6"/><line x1="1563.65" y1="928.88" x2="1563.65" y2="911.46" stroke="#8e1b15" stroke-width="2.6" stroke-linecap="butt"/><line x1="1556.95" y1="911.46" x2="1570.35" y2="911.46" stroke="#8e1b15" stroke-width="2.6" stroke-linecap="butt"/><rect x="1594.8" y="1061.56" width="30.9" height="21.24" fill="#e6e8f6" stroke="#252a86" stroke-width="2.6"/><line x1="1610.25" y1="1061.56" x2="1610.25" y2="1060.14" stroke="#252a86" stroke-width="2.6" stroke-linecap="butt"/><line x1="1603.55" y1="1060.14" x2="1616.95" y2="1060.14" stroke="#252a86" stroke-width="2.6" stroke-linecap="butt"/><line x1="1314.2" y1="797.6" x2="1314.2" y2="1085.3" stroke="#000" stroke-width="5" stroke-linecap="butt"/><line x1="1311.7" y1="1082.8" x2="1642.7" y2="1082.8" stroke="#000" stroke-width="5" stroke-linecap="butt"/><line x1="1306.2" y1="1082.8" x2="1314.2" y2="1082.8" stroke="#000" stroke-width="4.6" stroke-linecap="butt"/><text x="1303.4" y="1090.8" font-size="22" font-weight="bold" text-anchor="end" fill="#000" stroke="#000" stroke-width="0">0.0</text><line x1="1306.2" y1="1012" x2="1314.2" y2="1012" stroke="#000" stroke-width="4.6" stroke-linecap="butt"/><text x="1303.4" y="1020" font-size="22" font-weight="bold" text-anchor="end" fill="#000" stroke="#000" stroke-width="0">0.5</text><line x1="1306.2" y1="941.2" x2="1314.2" y2="941.2" stroke="#000" stroke-width="4.6" stroke-linecap="butt"/><text x="1303.4" y="949.2" font-size="22" font-weight="bold" text-anchor="end" fill="#000" stroke="#000" stroke-width="0">1.0</text><line x1="1306.2" y1="870.4" x2="1314.2" y2="870.4" stroke="#000" stroke-width="4.6" stroke-linecap="butt"/><text x="1303.4" y="878.4" font-size="22" font-weight="bold" text-anchor="end" fill="#000" stroke="#000" stroke-width="0">1.5</text><line x1="1306.2" y1="799.6" x2="1314.2" y2="799.6" stroke="#000" stroke-width="4.6" stroke-linecap="butt"/><text x="1303.4" y="807.6" font-size="22" font-weight="bold" text-anchor="end" fill="#000" stroke="#000" stroke-width="0">2.0</text><line x1="1392.3" y1="1082.8" x2="1392.3" y2="1091" stroke="#000" stroke-width="4.6" stroke-linecap="butt"/><line x1="1563.6" y1="1082.8" x2="1563.6" y2="1091" stroke="#000" stroke-width="4.6" stroke-linecap="butt"/><text x="1440" y="1044.5" font-size="31" text-anchor="middle" fill="#000" stroke="#000" stroke-width="0.5" textLength="26.5" lengthAdjust="spacingAndGlyphs">**</text><text x="1610" y="1061.5" font-size="31" text-anchor="middle" fill="#000" stroke="#000" stroke-width="0.5" textLength="26.5" lengthAdjust="spacingAndGlyphs">**</text><text x="1261.5" y="1094.4" font-size="26.5" fill="#000" stroke="#000" stroke-width="0.5" transform="rotate(-90 1261.5 1094.4)">Relative luciferase activity</text><rect x="1329.7" y="793.1" width="29.5" height="14.3" fill="#f2f2f2" stroke="#0b0b0b" stroke-width="2.6"/><text x="1376" y="808.6" font-size="22.4" fill="#000" stroke="#000" stroke-width="0.5">Control</text><rect x="1329.7" y="831.5" width="29.5" height="14.2" fill="#f6e4e3" stroke="#8e1b15" stroke-width="2.6"/><text x="1376" y="847" font-size="22.4" fill="#000" stroke="#000" stroke-width="0.5">UnMeth-LNMAS</text><rect x="1329.7" y="869.8" width="29.5" height="14.2" fill="#e6e8f6" stroke="#252a86" stroke-width="2.6"/><text x="1376" y="885.3" font-size="22.4" fill="#000" stroke="#000" stroke-width="0.5">Meth-LNMAS</text><text x="1401" y="1114.5" font-size="27.3" text-anchor="end" fill="#000" stroke="#000" stroke-width="0.5" transform="rotate(-45 1401 1114.5)">SiHa</text><text x="1572" y="1114.5" font-size="27.3" text-anchor="end" fill="#000" stroke="#000" stroke-width="0.5" transform="rotate(-45 1572 1114.5)">HeLa</text><rect x="136.1" y="1416.2" width="51.2" height="113" fill="#f2f2f2" stroke="#0b0b0b" stroke-width="2.6"/><rect x="211.3" y="1401.51" width="51.2" height="127.69" fill="#f6e4e3" stroke="#8e1b15" stroke-width="2.6"/><line x1="236.9" y1="1401.51" x2="236.9" y2="1377.78" stroke="#8e1b15" stroke-width="2.6" stroke-linecap="butt"/><line x1="230.2" y1="1377.78" x2="243.6" y2="1377.78" stroke="#8e1b15" stroke-width="2.6" stroke-linecap="butt"/><rect x="287.5" y="1317.89" width="50.3" height="211.31" fill="#e6e8f6" stroke="#252a86" stroke-width="2.6"/><line x1="312.65" y1="1317.89" x2="312.65" y2="1294.16" stroke="#252a86" stroke-width="2.6" stroke-linecap="butt"/><line x1="305.95" y1="1294.16" x2="319.35" y2="1294.16" stroke="#252a86" stroke-width="2.6" stroke-linecap="butt"/><rect x="362.2" y="1404.9" width="50.8" height="124.3" fill="#e8f5ee" stroke="#2e8b45" stroke-width="2.6"/><line x1="387.6" y1="1404.9" x2="387.6" y2="1371" stroke="#2e8b45" stroke-width="2.6" stroke-linecap="butt"/><line x1="380.9" y1="1371" x2="394.3" y2="1371" stroke="#2e8b45" stroke-width="2.6" stroke-linecap="butt"/><line x1="110.8" y1="1244.7" x2="110.8" y2="1531.7" stroke="#000" stroke-width="5" stroke-linecap="butt"/><line x1="108.3" y1="1529.2" x2="440.1" y2="1529.2" stroke="#000" stroke-width="5" stroke-linecap="butt"/><line x1="102.8" y1="1529.2" x2="110.8" y2="1529.2" stroke="#000" stroke-width="4.6" stroke-linecap="butt"/><text x="100" y="1537.2" font-size="22.5" font-weight="bold" text-anchor="end" fill="#000" stroke="#000" stroke-width="0">0.0</text><line x1="102.8" y1="1472.7" x2="110.8" y2="1472.7" stroke="#000" stroke-width="4.6" stroke-linecap="butt"/><text x="100" y="1480.7" font-size="22.5" font-weight="bold" text-anchor="end" fill="#000" stroke="#000" stroke-width="0">0.5</text><line x1="102.8" y1="1416.2" x2="110.8" y2="1416.2" stroke="#000" stroke-width="4.6" stroke-linecap="butt"/><text x="100" y="1424.2" font-size="22.5" font-weight="bold" text-anchor="end" fill="#000" stroke="#000" stroke-width="0">1.0</text><line x1="102.8" y1="1359.7" x2="110.8" y2="1359.7" stroke="#000" stroke-width="4.6" stroke-linecap="butt"/><text x="100" y="1367.7" font-size="22.5" font-weight="bold" text-anchor="end" fill="#000" stroke="#000" stroke-width="0">1.5</text><line x1="102.8" y1="1303.2" x2="110.8" y2="1303.2" stroke="#000" stroke-width="4.6" stroke-linecap="butt"/><text x="100" y="1311.2" font-size="22.5" font-weight="bold" text-anchor="end" fill="#000" stroke="#000" stroke-width="0">2.0</text><line x1="102.8" y1="1246.7" x2="110.8" y2="1246.7" stroke="#000" stroke-width="4.6" stroke-linecap="butt"/><text x="100" y="1254.7" font-size="22.5" font-weight="bold" text-anchor="end" fill="#000" stroke="#000" stroke-width="0">2.5</text><line x1="161.7" y1="1529.2" x2="161.7" y2="1537.3" stroke="#000" stroke-width="4.6" stroke-linecap="butt"/><line x1="237" y1="1529.2" x2="237" y2="1537.3" stroke="#000" stroke-width="4.6" stroke-linecap="butt"/><line x1="312.5" y1="1529.2" x2="312.5" y2="1537.3" stroke="#000" stroke-width="4.6" stroke-linecap="butt"/><line x1="387.8" y1="1529.2" x2="387.8" y2="1537.3" stroke="#000" stroke-width="4.6" stroke-linecap="butt"/><text x="314.6" y="1295.5" font-size="31" text-anchor="middle" fill="#000" stroke="#000" stroke-width="0.5" textLength="26.5" lengthAdjust="spacingAndGlyphs">**</text><text x="58" y="1556.6" font-size="26.8" fill="#000" stroke="#000" stroke-width="0.5" transform="rotate(-90 58 1556.6)">Relative LNMAS expression</text><text x="170.2" y="1559" font-size="27.8" text-anchor="end" fill="#000" stroke="#000" stroke-width="0.5" transform="rotate(-45 170.2 1559)">TET1-Vector</text><text x="245.5" y="1559" font-size="27.8" text-anchor="end" fill="#000" stroke="#000" stroke-width="0.5" transform="rotate(-45 245.5 1559)">TET1-gRNA1</text><text x="321" y="1559" font-size="27.8" text-anchor="end" fill="#000" stroke="#000" stroke-width="0.5" transform="rotate(-45 321 1559)">TET1-gRNA2</text><text x="396.3" y="1559" font-size="27.8" text-anchor="end" fill="#000" stroke="#000" stroke-width="0.5" transform="rotate(-45 396.3 1559)">TET1-gRNA3</text><clipPath id="nclip875"><rect x="611" y="0" width="528" height="1601"/></clipPath><g clip-path="url(#nclip875)"><circle cx="875" cy="1491" r="253" fill="url(#nuc)"/><circle cx="875" cy="1491" r="247.7" fill="none" stroke="#dfded9" stroke-width="3"/><circle cx="875" cy="1491" r="250.1" fill="none" stroke="#d9d8d4" stroke-width="7.8" stroke-dasharray="116.16 3.4 593.74 3.4 113.15 3.4 121.44 3.4 120.13 3.4 115.33 3.4 120.57 3.4 118.39 3.4 119.69 3.4 2.23 0"/></g><text x="829.6" y="1278.2" font-size="27.7" fill="#000" stroke="#000" stroke-width="0.5">Nucleus</text><text x="725.5" y="1324.6" font-size="27.7" fill="#000" stroke="#000" stroke-width="0.5">Hypomethylation</text><text x="955" y="1371" font-size="27.7" fill="#000" stroke="#000" stroke-width="0.5">LNMAS</text><text x="664.3" y="1414.2" font-size="27.7" fill="#000" stroke="#000" stroke-width="0.5">LNMAS</text><text x="694.6" y="1492.1" font-size="27.7" fill="#000" stroke="#000" stroke-width="0.5">HMGB1</text><text x="820.4" y="1490.6" font-size="27.7" fill="#000" stroke="#000" stroke-width="0.5">BRG1</text><text x="893" y="1521.8" font-size="26.6" fill="#000" stroke="#000" stroke-width="0.5">TWIST1</text><text x="897" y="1550.8" font-size="27.7" fill="#000" stroke="#000" stroke-width="0.5">STC1</text><text x="738.5" y="1652.2" font-size="27.85" fill="#000" stroke="#000" stroke-width="0.5">LNMAS high expression</text><path d="M770 1374 Q800 1379 850 1375 Q900 1372 937 1377" fill="none" stroke="#f7941d" stroke-width="1.8"/><g transform="translate(781 1358.8) rotate(22)"><path d="M0 -11.22 L13.8 -11.22 A5.15 11.22 0 0 1 13.8 11.22 L0 11.22 Z" fill="#dadada" stroke="#111" stroke-width="1.1"/><path d="M5.24 -11.22 A5.15 11.22 0 0 1 5.24 11.22" fill="none" stroke="#f7941d" stroke-width="1.8"/><path d="M10.76 -11.22 A5.15 11.22 0 0 1 10.76 11.22" fill="none" stroke="#f7941d" stroke-width="1.8"/><ellipse cx="0" cy="0" rx="5.15" ry="11.22" fill="#cfcecd" stroke="#111" stroke-width="1.1"/></g><g transform="translate(917 1361.7) rotate(22)"><path d="M0 -11.22 L13.8 -11.22 A5.15 11.22 0 0 1 13.8 11.22 L0 11.22 Z" fill="#dadada" stroke="#111" stroke-width="1.1"/><path d="M5.24 -11.22 A5.15 11.22 0 0 1 5.24 11.22" fill="none" stroke="#f7941d" stroke-width="1.8"/><path d="M10.76 -11.22 A5.15 11.22 0 0 1 10.76 11.22" fill="none" stroke="#f7941d" stroke-width="1.8"/><ellipse cx="0" cy="0" rx="5.15" ry="11.22" fill="#cfcecd" stroke="#111" stroke-width="1.1"/></g><line x1="810" y1="1351" x2="810" y2="1371" stroke="#000" stroke-width="2.6" stroke-linecap="butt"/><circle cx="810" cy="1350" r="4" fill="#0b0b0b"/><path d="M842.6 1370V1343.5H869" fill="none" stroke="#0b0b0b" stroke-width="2.8"/><path d="M865 1331.5 L889 1343.5 L865 1355.5 L869 1343.5 Z" fill="#0b0b0b"/><path d="M740.6 1435.2 Q765.5 1433.2 769.5 1418 Q777.5 1428 791.55 1422 Q805.55 1417 811.6 1420.4" fill="none" stroke="#b5221c" stroke-width="3"/><ellipse cx="771.5" cy="1412" rx="5.4" ry="3.3" fill="none" stroke="#b5221c" stroke-width="2.8" transform="rotate(-12 771.5 1412)"/><ellipse cx="772.1" cy="1407.2" rx="5.4" ry="3.3" fill="none" stroke="#b5221c" stroke-width="2.8" transform="rotate(-12 772.1 1407.2)"/><ellipse cx="772.7" cy="1402.4" rx="5.4" ry="3.3" fill="none" stroke="#b5221c" stroke-width="2.8" transform="rotate(-12 772.7 1402.4)"/><path d="M824.6 1417.3 Q850.5 1415.3 854.5 1401 Q862.5 1411 876.6 1405 Q890.6 1400 896.7 1404.3" fill="none" stroke="#b5221c" stroke-width="3"/><ellipse cx="856.5" cy="1395" rx="5.4" ry="3.3" fill="none" stroke="#b5221c" stroke-width="2.8" transform="rotate(-12 856.5 1395)"/><ellipse cx="857.1" cy="1390.2" rx="5.4" ry="3.3" fill="none" stroke="#b5221c" stroke-width="2.8" transform="rotate(-12 857.1 1390.2)"/><ellipse cx="857.7" cy="1385.4" rx="5.4" ry="3.3" fill="none" stroke="#b5221c" stroke-width="2.8" transform="rotate(-12 857.7 1385.4)"/><path d="M903.8 1418.2 Q929.3 1416.2 933.3 1401.5 Q941.3 1411.5 955.4 1405.5 Q969.4 1400.5 975.5 1404" fill="none" stroke="#b5221c" stroke-width="3"/><ellipse cx="935.3" cy="1395.5" rx="5.4" ry="3.3" fill="none" stroke="#b5221c" stroke-width="2.8" transform="rotate(-12 935.3 1395.5)"/><ellipse cx="935.9" cy="1390.7" rx="5.4" ry="3.3" fill="none" stroke="#b5221c" stroke-width="2.8" transform="rotate(-12 935.9 1390.7)"/><ellipse cx="936.5" cy="1385.9" rx="5.4" ry="3.3" fill="none" stroke="#b5221c" stroke-width="2.8" transform="rotate(-12 936.5 1385.9)"/><ellipse cx="856.5" cy="1449.8" rx="25.3" ry="19.3" fill="url(#gray3d)" stroke="#222" stroke-width="1" transform="rotate(14 856.5 1449.8)"/><path d="M1100 1595.5 L1107 1597" fill="none" stroke="#111" stroke-width="1.6"/><path d="M705 1556.7 Q716 1553 726 1549 Q736 1558 746 1549 Q756 1558 768 1549 Q780 1558 796 1549 Q812 1558 826 1549 Q838 1556 848 1551 Q862 1544 872 1550 Q878 1556 884.7 1552.5" fill="none" stroke="#f7941d" stroke-width="1.8"/><g transform="translate(715.8 1538.7) rotate(22)"><path d="M0 -12.2 L15 -12.2 A5.6 12.2 0 0 1 15 12.2 L0 12.2 Z" fill="#dadada" stroke="#111" stroke-width="1.1"/><path d="M5.7 -12.2 A5.6 12.2 0 0 1 5.7 12.2" fill="none" stroke="#f7941d" stroke-width="1.8"/><path d="M11.7 -12.2 A5.6 12.2 0 0 1 11.7 12.2" fill="none" stroke="#f7941d" stroke-width="1.8"/><ellipse cx="0" cy="0" rx="5.6" ry="12.2" fill="#cfcecd" stroke="#111" stroke-width="1.1"/></g><g transform="translate(745.9 1537.5) rotate(22)"><path d="M0 -12.2 L15 -12.2 A5.6 12.2 0 0 1 15 12.2 L0 12.2 Z" fill="#dadada" stroke="#111" stroke-width="1.1"/><path d="M5.7 -12.2 A5.6 12.2 0 0 1 5.7 12.2" fill="none" stroke="#f7941d" stroke-width="1.8"/><path d="M11.7 -12.2 A5.6 12.2 0 0 1 11.7 12.2" fill="none" stroke="#f7941d" stroke-width="1.8"/><ellipse cx="0" cy="0" rx="5.6" ry="12.2" fill="#cfcecd" stroke="#111" stroke-width="1.1"/></g><g transform="translate(776 1536.9) rotate(22)"><path d="M0 -12.2 L15 -12.2 A5.6 12.2 0 0 1 15 12.2 L0 12.2 Z" fill="#dadada" stroke="#111" stroke-width="1.1"/><path d="M5.7 -12.2 A5.6 12.2 0 0 1 5.7 12.2" fill="none" stroke="#f7941d" stroke-width="1.8"/><path d="M11.7 -12.2 A5.6 12.2 0 0 1 11.7 12.2" fill="none" stroke="#f7941d" stroke-width="1.8"/><ellipse cx="0" cy="0" rx="5.6" ry="12.2" fill="#cfcecd" stroke="#111" stroke-width="1.1"/></g><g transform="translate(805.4 1535.7) rotate(22)"><path d="M0 -12.2 L15 -12.2 A5.6 12.2 0 0 1 15 12.2 L0 12.2 Z" fill="#dadada" stroke="#111" stroke-width="1.1"/><path d="M5.7 -12.2 A5.6 12.2 0 0 1 5.7 12.2" fill="none" stroke="#f7941d" stroke-width="1.8"/><path d="M11.7 -12.2 A5.6 12.2 0 0 1 11.7 12.2" fill="none" stroke="#f7941d" stroke-width="1.8"/><ellipse cx="0" cy="0" rx="5.6" ry="12.2" fill="#cfcecd" stroke="#111" stroke-width="1.1"/></g><g transform="translate(850.5 1533.9) rotate(22)"><path d="M0 -12.2 L15 -12.2 A5.6 12.2 0 0 1 15 12.2 L0 12.2 Z" fill="#dadada" stroke="#111" stroke-width="1.1"/><path d="M5.7 -12.2 A5.6 12.2 0 0 1 5.7 12.2" fill="none" stroke="#f7941d" stroke-width="1.8"/><path d="M11.7 -12.2 A5.6 12.2 0 0 1 11.7 12.2" fill="none" stroke="#f7941d" stroke-width="1.8"/><ellipse cx="0" cy="0" rx="5.6" ry="12.2" fill="#cfcecd" stroke="#111" stroke-width="1.1"/></g><path d="M840.3 1550.7V1514.6H866" fill="none" stroke="#0b0b0b" stroke-width="2.8"/><path d="M862 1502.6 L884.7 1514.6 L862 1526.6 L866 1514.6 Z" fill="#0b0b0b"/><line x1="856.5" y1="1508" x2="867.5" y2="1519" stroke="#c0261c" stroke-width="2.2" stroke-linecap="butt"/><line x1="856.5" y1="1519" x2="867.5" y2="1508" stroke="#c0261c" stroke-width="2.2" stroke-linecap="butt"/><ellipse cx="744.1" cy="1508.6" rx="11" ry="13.2" fill="url(#green3d)" stroke="#222" stroke-width="1" transform="rotate(30 744.1 1508.6)"/><path d="M743 1494.8 Q735 1496 730 1506 Q725 1518 722 1526 Q718 1538 716 1550" fill="none" stroke="#b5221c" stroke-width="3"/><ellipse cx="711" cy="1511" rx="4.5" ry="3" fill="none" stroke="#b5221c" stroke-width="2.3"/><ellipse cx="715" cy="1514.5" rx="4.5" ry="3" fill="none" stroke="#b5221c" stroke-width="2.3"/><ellipse cx="719" cy="1518" rx="4.5" ry="3" fill="none" stroke="#b5221c" stroke-width="2.3"/><clipPath id="nclip1410"><rect x="1146.5" y="0" width="527" height="1601.7"/></clipPath><g clip-path="url(#nclip1410)"><circle cx="1410" cy="1505.5" r="252.5" fill="url(#nuc)"/><circle cx="1410" cy="1505.5" r="247.2" fill="none" stroke="#dfded9" stroke-width="3"/><circle cx="1410" cy="1505.5" r="249.6" fill="none" stroke="#d9d8d4" stroke-width="7.8" stroke-dasharray="115.92 3.4 593.85 3.4 110.74 3.4 122.93 3.4 120.76 3.4 110.74 3.4 121.19 3.4 122.5 3.4 112.48 3.4 6.58 0"/></g><text x="1366.2" y="1285.9" font-size="27.7" fill="#000" stroke="#000" stroke-width="0.5">Nucleus</text><text x="1265.4" y="1333" font-size="27.7" fill="#000" stroke="#000" stroke-width="0.5">Hypermethylation</text><text x="1497.9" y="1378.3" font-size="27.7" fill="#000" stroke="#000" stroke-width="0.5">LNMAS</text><text x="1251.3" y="1420.3" font-size="27.7" fill="#000" stroke="#000" stroke-width="0.5">LNMAS</text><text x="1456.9" y="1465.7" font-size="27.7" fill="#000" stroke="#000" stroke-width="0.5">LN metastasis</text><text x="1302.4" y="1488.5" font-size="27.7" fill="#000" stroke="#000" stroke-width="0.5">BRG1</text><text x="1184.8" y="1529.5" font-size="27.7" fill="#000" stroke="#000" stroke-width="0.5">HMGB1</text><text x="1490.5" y="1538" font-size="26.6" fill="#000" stroke="#000" stroke-width="0.5">TWIST1</text><text x="1494.3" y="1567.2" font-size="27.7" fill="#000" stroke="#000" stroke-width="0.5">STC1</text><text x="1227.3" y="1590.7" font-size="20.3" fill="#000" stroke="#000" stroke-width="0.5">H3K27ac</text><text x="1331.4" y="1590.7" font-size="20.3" fill="#000" stroke="#000" stroke-width="0.5">H3K4me3</text><text x="1292.3" y="1645.5" font-size="27.85" fill="#000" stroke="#000" stroke-width="0.5">LNMAS low expression</text><path d="M1304.5 1378 Q1340 1381 1390 1377 Q1440 1374 1472.5 1380" fill="none" stroke="#f7941d" stroke-width="1.8"/><g transform="translate(1316.5 1364.9) rotate(22)"><path d="M0 -11.22 L13.8 -11.22 A5.15 11.22 0 0 1 13.8 11.22 L0 11.22 Z" fill="#dadada" stroke="#111" stroke-width="1.1"/><path d="M5.24 -11.22 A5.15 11.22 0 0 1 5.24 11.22" fill="none" stroke="#f7941d" stroke-width="1.8"/><path d="M10.76 -11.22 A5.15 11.22 0 0 1 10.76 11.22" fill="none" stroke="#f7941d" stroke-width="1.8"/><ellipse cx="0" cy="0" rx="5.15" ry="11.22" fill="#cfcecd" stroke="#111" stroke-width="1.1"/></g><g transform="translate(1453.5 1370) rotate(22)"><path d="M0 -11.22 L13.8 -11.22 A5.15 11.22 0 0 1 13.8 11.22 L0 11.22 Z" fill="#dadada" stroke="#111" stroke-width="1.1"/><path d="M5.24 -11.22 A5.15 11.22 0 0 1 5.24 11.22" fill="none" stroke="#f7941d" stroke-width="1.8"/><path d="M10.76 -11.22 A5.15 11.22 0 0 1 10.76 11.22" fill="none" stroke="#f7941d" stroke-width="1.8"/><ellipse cx="0" cy="0" rx="5.15" ry="11.22" fill="#cfcecd" stroke="#111" stroke-width="1.1"/></g><line x1="1343.1" y1="1357" x2="1343.1" y2="1378" stroke="#000" stroke-width="2.6" stroke-linecap="butt"/><circle cx="1343.1" cy="1357.3" r="4.2" fill="#0b0b0b"/><line x1="1351.9" y1="1357" x2="1351.9" y2="1378" stroke="#000" stroke-width="2.6" stroke-linecap="butt"/><circle cx="1351.9" cy="1357.3" r="4.2" fill="#0b0b0b"/><line x1="1360.7" y1="1357" x2="1360.7" y2="1378" stroke="#000" stroke-width="2.6" stroke-linecap="butt"/><circle cx="1360.7" cy="1357.3" r="4.2" fill="#0b0b0b"/><path d="M1378.4 1377V1349.8H1406" fill="none" stroke="#0b0b0b" stroke-width="2.8"/><path d="M1402 1337.8 L1423.8 1349.8 L1402 1361.8 L1406 1349.8 Z" fill="#0b0b0b"/><line x1="1386.4" y1="1344.3" x2="1397.4" y2="1355.3" stroke="#c0261c" stroke-width="2.2" stroke-linecap="butt"/><line x1="1386.4" y1="1355.3" x2="1397.4" y2="1344.3" stroke="#c0261c" stroke-width="2.2" stroke-linecap="butt"/><path d="M1360 1425.4 Q1385.9 1423.4 1389.9 1409 Q1397.9 1419 1412.05 1413 Q1426.05 1408 1432.2 1410.3" fill="none" stroke="#b5221c" stroke-width="3"/><ellipse cx="1391.9" cy="1403" rx="5.4" ry="3.3" fill="none" stroke="#b5221c" stroke-width="2.8" transform="rotate(-12 1391.9 1403)"/><ellipse cx="1392.5" cy="1398.2" rx="5.4" ry="3.3" fill="none" stroke="#b5221c" stroke-width="2.8" transform="rotate(-12 1392.5 1398.2)"/><ellipse cx="1393.1" cy="1393.4" rx="5.4" ry="3.3" fill="none" stroke="#b5221c" stroke-width="2.8" transform="rotate(-12 1393.1 1393.4)"/><line x1="1287" y1="1556" x2="1287" y2="1568" stroke="#6aa53a" stroke-width="2.2" stroke-linecap="butt"/><circle cx="1287" cy="1569.5" r="3" fill="#6aa53a"/><line x1="1316.3" y1="1556" x2="1316.3" y2="1568" stroke="#6aa53a" stroke-width="2.2" stroke-linecap="butt"/><circle cx="1316.3" cy="1569.5" r="3" fill="#6aa53a"/><path d="M1346.5 1555 q2.2 1.8 0 3.4 q-2.2 1.8 0 3.4 q2.2 1.8 0 3.4 q-2.2 1.8 0 3.4 q2.2 1.8 0 3.4" fill="none" stroke="#b47c44" stroke-width="2.4"/><path d="M1375 1555 q2.2 1.8 0 3.4 q-2.2 1.8 0 3.4 q2.2 1.8 0 3.4 q-2.2 1.8 0 3.4 q2.2 1.8 0 3.4" fill="none" stroke="#b47c44" stroke-width="2.4"/><path d="M1270 1560 Q1280 1554 1290 1560 Q1300 1566 1310 1558 Q1320 1554 1330 1561 Q1340 1566 1350 1558 Q1360 1554 1370 1560 Q1382 1566 1400 1560 Q1420 1556 1445 1560" fill="none" stroke="#f7941d" stroke-width="1.8"/><g transform="translate(1284.3 1546.3) rotate(22)"><path d="M0 -12.2 L15 -12.2 A5.6 12.2 0 0 1 15 12.2 L0 12.2 Z" fill="#dadada" stroke="#111" stroke-width="1.1"/><path d="M5.7 -12.2 A5.6 12.2 0 0 1 5.7 12.2" fill="none" stroke="#f7941d" stroke-width="1.8"/><path d="M11.7 -12.2 A5.6 12.2 0 0 1 11.7 12.2" fill="none" stroke="#f7941d" stroke-width="1.8"/><ellipse cx="0" cy="0" rx="5.6" ry="12.2" fill="#cfcecd" stroke="#111" stroke-width="1.1"/></g><g transform="translate(1312.9 1544.7) rotate(22)"><path d="M0 -12.2 L15 -12.2 A5.6 12.2 0 0 1 15 12.2 L0 12.2 Z" fill="#dadada" stroke="#111" stroke-width="1.1"/><path d="M5.7 -12.2 A5.6 12.2 0 0 1 5.7 12.2" fill="none" stroke="#f7941d" stroke-width="1.8"/><path d="M11.7 -12.2 A5.6 12.2 0 0 1 11.7 12.2" fill="none" stroke="#f7941d" stroke-width="1.8"/><ellipse cx="0" cy="0" rx="5.6" ry="12.2" fill="#cfcecd" stroke="#111" stroke-width="1.1"/></g><g transform="translate(1343.1 1544.7) rotate(22)"><path d="M0 -12.2 L15 -12.2 A5.6 12.2 0 0 1 15 12.2 L0 12.2 Z" fill="#dadada" stroke="#111" stroke-width="1.1"/><path d="M5.7 -12.2 A5.6 12.2 0 0 1 5.7 12.2" fill="none" stroke="#f7941d" stroke-width="1.8"/><path d="M11.7 -12.2 A5.6 12.2 0 0 1 11.7 12.2" fill="none" stroke="#f7941d" stroke-width="1.8"/><ellipse cx="0" cy="0" rx="5.6" ry="12.2" fill="#cfcecd" stroke="#111" stroke-width="1.1"/></g><g transform="translate(1373.4 1543) rotate(22)"><path d="M0 -12.2 L15 -12.2 A5.6 12.2 0 0 1 15 12.2 L0 12.2 Z" fill="#dadada" stroke="#111" stroke-width="1.1"/><path d="M5.7 -12.2 A5.6 12.2 0 0 1 5.7 12.2" fill="none" stroke="#f7941d" stroke-width="1.8"/><path d="M11.7 -12.2 A5.6 12.2 0 0 1 11.7 12.2" fill="none" stroke="#f7941d" stroke-width="1.8"/><ellipse cx="0" cy="0" rx="5.6" ry="12.2" fill="#cfcecd" stroke="#111" stroke-width="1.1"/></g><path d="M1400.3 1559.8V1531.2H1430" fill="none" stroke="#0b0b0b" stroke-width="2.8"/><path d="M1426 1519.2 L1445.6 1531.2 L1426 1543.2 L1430 1531.2 Z" fill="#0b0b0b"/><line x1="1534" y1="1516" x2="1534" y2="1480" stroke="#000" stroke-width="2.6" stroke-linecap="butt"/><path d="M1534 1468.5 L1543 1486 L1534 1482 L1525 1486 Z" fill="#0b0b0b"/><ellipse cx="1329.7" cy="1512.7" rx="32" ry="21.8" fill="url(#gray3d)" stroke="#222" stroke-width="1" transform="rotate(8 1329.7 1512.7)"/><path d="M1639 1599.5 L1646 1601" fill="none" stroke="#111" stroke-width="1.6"/><ellipse cx="1297.8" cy="1521.1" rx="15" ry="9.4" fill="url(#green3d)" stroke="#222" stroke-width="1"/></svg></body></html>
